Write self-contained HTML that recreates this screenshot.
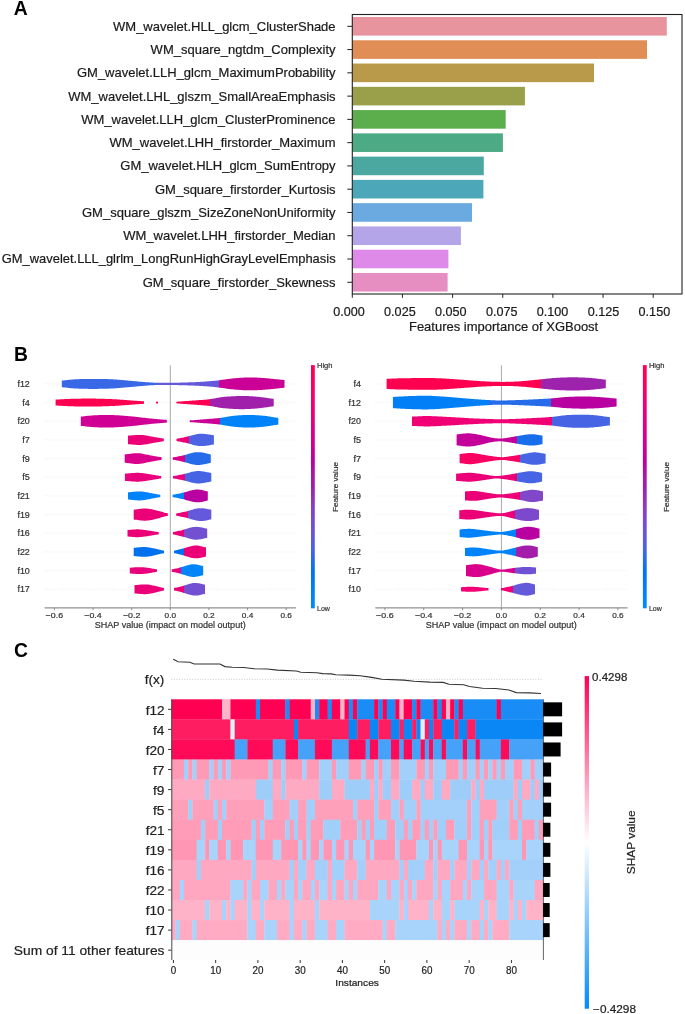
<!DOCTYPE html>
<html><head><meta charset="utf-8"><style>
html,body{margin:0;padding:0;background:#fff;}
svg{display:block;font-family:"Liberation Sans", sans-serif;will-change:transform;}
</style></head><body>
<svg width="685" height="1014" viewBox="0 0 685 1014">
<rect width="685" height="1014" fill="#ffffff"/>
<text x="13.80" y="15.10" font-size="19.3" text-anchor="start" fill="#000" font-weight="bold">A</text>
<rect x="352.30" y="17.00" width="314.50" height="18.6" fill="#e8949f"/>
<line x1="347.30" y1="26.30" x2="352.30" y2="26.30" stroke="#222" stroke-width="1"/>
<text x="335.60" y="30.75" font-size="12.4" text-anchor="end" fill="#1a1a1a" textLength="222.54" lengthAdjust="spacingAndGlyphs" stroke="#1a1a1a" stroke-width="0.2">WM_wavelet.HLL_glcm_ClusterShade</text>
<rect x="352.30" y="40.27" width="294.70" height="18.6" fill="#e08e55"/>
<line x1="347.30" y1="49.57" x2="352.30" y2="49.57" stroke="#222" stroke-width="1"/>
<text x="335.60" y="54.02" font-size="12.4" text-anchor="end" fill="#1a1a1a" textLength="184.97" lengthAdjust="spacingAndGlyphs" stroke="#1a1a1a" stroke-width="0.2">WM_square_ngtdm_Complexity</text>
<rect x="352.30" y="63.54" width="241.70" height="18.6" fill="#b89a4a"/>
<line x1="347.30" y1="72.84" x2="352.30" y2="72.84" stroke="#222" stroke-width="1"/>
<text x="335.60" y="77.29" font-size="12.4" text-anchor="end" fill="#1a1a1a" textLength="258.65" lengthAdjust="spacingAndGlyphs" stroke="#1a1a1a" stroke-width="0.2">GM_wavelet.LLH_glcm_MaximumProbability</text>
<rect x="352.30" y="86.81" width="172.60" height="18.6" fill="#9aa04a"/>
<line x1="347.30" y1="96.11" x2="352.30" y2="96.11" stroke="#222" stroke-width="1"/>
<text x="335.60" y="100.56" font-size="12.4" text-anchor="end" fill="#1a1a1a" textLength="267.32" lengthAdjust="spacingAndGlyphs" stroke="#1a1a1a" stroke-width="0.2">WM_wavelet.LHL_glszm_SmallAreaEmphasis</text>
<rect x="352.30" y="110.08" width="153.40" height="18.6" fill="#5cae4c"/>
<line x1="347.30" y1="119.38" x2="352.30" y2="119.38" stroke="#222" stroke-width="1"/>
<text x="335.60" y="123.83" font-size="12.4" text-anchor="end" fill="#1a1a1a" textLength="254.32" lengthAdjust="spacingAndGlyphs" stroke="#1a1a1a" stroke-width="0.2">WM_wavelet.LLH_glcm_ClusterProminence</text>
<rect x="352.30" y="133.35" width="150.60" height="18.6" fill="#4cab84"/>
<line x1="347.30" y1="142.65" x2="352.30" y2="142.65" stroke="#222" stroke-width="1"/>
<text x="335.60" y="147.10" font-size="12.4" text-anchor="end" fill="#1a1a1a" textLength="226.11" lengthAdjust="spacingAndGlyphs" stroke="#1a1a1a" stroke-width="0.2">WM_wavelet.LHH_firstorder_Maximum</text>
<rect x="352.30" y="156.62" width="131.50" height="18.6" fill="#4aa8a0"/>
<line x1="347.30" y1="165.92" x2="352.30" y2="165.92" stroke="#222" stroke-width="1"/>
<text x="335.60" y="170.37" font-size="12.4" text-anchor="end" fill="#1a1a1a" textLength="215.31" lengthAdjust="spacingAndGlyphs" stroke="#1a1a1a" stroke-width="0.2">GM_wavelet.HLH_glcm_SumEntropy</text>
<rect x="352.30" y="179.89" width="131.10" height="18.6" fill="#4ca8b8"/>
<line x1="347.30" y1="189.19" x2="352.30" y2="189.19" stroke="#222" stroke-width="1"/>
<text x="335.60" y="193.64" font-size="12.4" text-anchor="end" fill="#1a1a1a" textLength="180.63" lengthAdjust="spacingAndGlyphs" stroke="#1a1a1a" stroke-width="0.2">GM_square_firstorder_Kurtosis</text>
<rect x="352.30" y="203.16" width="119.70" height="18.6" fill="#6aaae0"/>
<line x1="347.30" y1="212.46" x2="352.30" y2="212.46" stroke="#222" stroke-width="1"/>
<text x="335.60" y="216.91" font-size="12.4" text-anchor="end" fill="#1a1a1a" textLength="253.60" lengthAdjust="spacingAndGlyphs" stroke="#1a1a1a" stroke-width="0.2">GM_square_glszm_SizeZoneNonUniformity</text>
<rect x="352.30" y="226.43" width="108.60" height="18.6" fill="#b4a4e8"/>
<line x1="347.30" y1="235.73" x2="352.30" y2="235.73" stroke="#222" stroke-width="1"/>
<text x="335.60" y="240.18" font-size="12.4" text-anchor="end" fill="#1a1a1a" textLength="212.41" lengthAdjust="spacingAndGlyphs" stroke="#1a1a1a" stroke-width="0.2">WM_wavelet.LHH_firstorder_Median</text>
<rect x="352.30" y="249.70" width="96.10" height="18.6" fill="#de8ae8"/>
<line x1="347.30" y1="259.00" x2="352.30" y2="259.00" stroke="#222" stroke-width="1"/>
<text x="335.60" y="263.45" font-size="12.4" text-anchor="end" fill="#1a1a1a" textLength="333.80" lengthAdjust="spacingAndGlyphs" stroke="#1a1a1a" stroke-width="0.2">GM_wavelet.LLL_glrlm_LongRunHighGrayLevelEmphasis</text>
<rect x="352.30" y="272.97" width="95.30" height="18.6" fill="#e68ec2"/>
<line x1="347.30" y1="282.27" x2="352.30" y2="282.27" stroke="#222" stroke-width="1"/>
<text x="335.60" y="286.72" font-size="12.4" text-anchor="end" fill="#1a1a1a" textLength="192.92" lengthAdjust="spacingAndGlyphs" stroke="#1a1a1a" stroke-width="0.2">GM_square_firstorder_Skewness</text>
<rect x="352.30" y="14.50" width="329.70" height="279.50" fill="none" stroke="#222" stroke-width="1.1"/>
<line x1="352.30" y1="294.00" x2="352.30" y2="297.80" stroke="#222" stroke-width="1"/>
<text x="349.00" y="316.10" font-size="12.4" text-anchor="middle" fill="#1a1a1a" stroke="#1a1a1a" stroke-width="0.2" textLength="31.60" lengthAdjust="spacingAndGlyphs">0.000</text>
<line x1="402.45" y1="294.00" x2="402.45" y2="297.80" stroke="#222" stroke-width="1"/>
<text x="399.90" y="316.10" font-size="12.4" text-anchor="middle" fill="#1a1a1a" stroke="#1a1a1a" stroke-width="0.2" textLength="31.60" lengthAdjust="spacingAndGlyphs">0.025</text>
<line x1="452.60" y1="294.00" x2="452.60" y2="297.80" stroke="#222" stroke-width="1"/>
<text x="450.80" y="316.10" font-size="12.4" text-anchor="middle" fill="#1a1a1a" stroke="#1a1a1a" stroke-width="0.2" textLength="31.60" lengthAdjust="spacingAndGlyphs">0.050</text>
<line x1="502.75" y1="294.00" x2="502.75" y2="297.80" stroke="#222" stroke-width="1"/>
<text x="501.70" y="316.10" font-size="12.4" text-anchor="middle" fill="#1a1a1a" stroke="#1a1a1a" stroke-width="0.2" textLength="31.60" lengthAdjust="spacingAndGlyphs">0.075</text>
<line x1="552.90" y1="294.00" x2="552.90" y2="297.80" stroke="#222" stroke-width="1"/>
<text x="552.60" y="316.10" font-size="12.4" text-anchor="middle" fill="#1a1a1a" stroke="#1a1a1a" stroke-width="0.2" textLength="31.60" lengthAdjust="spacingAndGlyphs">0.100</text>
<line x1="603.05" y1="294.00" x2="603.05" y2="297.80" stroke="#222" stroke-width="1"/>
<text x="603.50" y="316.10" font-size="12.4" text-anchor="middle" fill="#1a1a1a" stroke="#1a1a1a" stroke-width="0.2" textLength="31.60" lengthAdjust="spacingAndGlyphs">0.125</text>
<line x1="653.20" y1="294.00" x2="653.20" y2="297.80" stroke="#222" stroke-width="1"/>
<text x="654.40" y="316.10" font-size="12.4" text-anchor="middle" fill="#1a1a1a" stroke="#1a1a1a" stroke-width="0.2" textLength="31.60" lengthAdjust="spacingAndGlyphs">0.150</text>
<text x="503.60" y="331.00" font-size="12.4" text-anchor="middle" fill="#1a1a1a" stroke="#1a1a1a" stroke-width="0.2" textLength="189.31" lengthAdjust="spacingAndGlyphs">Features importance of XGBoost</text>
<text x="14.10" y="361.20" font-size="19.3" text-anchor="start" fill="#000" font-weight="bold">B</text>
<line x1="44.50" y1="383.90" x2="296.00" y2="383.90" stroke="#e6e6e6" stroke-width="0.7" stroke-dasharray="1,1.6"/>
<line x1="44.50" y1="402.57" x2="296.00" y2="402.57" stroke="#e6e6e6" stroke-width="0.7" stroke-dasharray="1,1.6"/>
<line x1="44.50" y1="421.24" x2="296.00" y2="421.24" stroke="#e6e6e6" stroke-width="0.7" stroke-dasharray="1,1.6"/>
<line x1="44.50" y1="439.91" x2="296.00" y2="439.91" stroke="#e6e6e6" stroke-width="0.7" stroke-dasharray="1,1.6"/>
<line x1="44.50" y1="458.58" x2="296.00" y2="458.58" stroke="#e6e6e6" stroke-width="0.7" stroke-dasharray="1,1.6"/>
<line x1="44.50" y1="477.25" x2="296.00" y2="477.25" stroke="#e6e6e6" stroke-width="0.7" stroke-dasharray="1,1.6"/>
<line x1="44.50" y1="495.92" x2="296.00" y2="495.92" stroke="#e6e6e6" stroke-width="0.7" stroke-dasharray="1,1.6"/>
<line x1="44.50" y1="514.59" x2="296.00" y2="514.59" stroke="#e6e6e6" stroke-width="0.7" stroke-dasharray="1,1.6"/>
<line x1="44.50" y1="533.26" x2="296.00" y2="533.26" stroke="#e6e6e6" stroke-width="0.7" stroke-dasharray="1,1.6"/>
<line x1="44.50" y1="551.93" x2="296.00" y2="551.93" stroke="#e6e6e6" stroke-width="0.7" stroke-dasharray="1,1.6"/>
<line x1="44.50" y1="570.60" x2="296.00" y2="570.60" stroke="#e6e6e6" stroke-width="0.7" stroke-dasharray="1,1.6"/>
<line x1="44.50" y1="589.27" x2="296.00" y2="589.27" stroke="#e6e6e6" stroke-width="0.7" stroke-dasharray="1,1.6"/>
<line x1="170.30" y1="365.3" x2="170.30" y2="607.4" stroke="#a8a8a8" stroke-width="1"/>
<text x="29.80" y="387.00" font-size="8.5" text-anchor="end" fill="#333" stroke="#333" stroke-width="0.2" textLength="12.38" lengthAdjust="spacingAndGlyphs">f12</text>
<linearGradient id="g1" gradientUnits="objectBoundingBox" x1="0" y1="0" x2="1" y2="0"><stop offset="0.0000" stop-color="#3968e7"/><stop offset="0.4297" stop-color="#3968e7"/><stop offset="0.4297" stop-color="#6459da"/><stop offset="0.7045" stop-color="#6459da"/><stop offset="0.7045" stop-color="#ca0097"/></linearGradient>
<path d="M61.80,380.58 L62.80,380.51 L63.80,380.42 L64.80,380.32 L65.80,380.21 L66.80,380.09 L67.80,379.98 L68.80,379.87 L69.80,379.76 L70.80,379.66 L71.80,379.57 L72.80,379.48 L73.80,379.41 L74.80,379.34 L75.80,379.28 L76.80,379.23 L77.80,379.18 L78.80,379.14 L79.80,379.10 L80.80,379.07 L81.80,379.04 L82.80,379.02 L83.80,378.99 L84.80,378.97 L85.80,378.96 L86.80,378.94 L87.80,378.93 L88.80,378.92 L89.80,378.92 L90.80,378.91 L91.80,378.91 L92.80,378.90 L93.80,378.90 L94.80,378.91 L95.80,378.91 L96.80,378.91 L97.80,378.92 L98.80,378.93 L99.80,378.94 L100.80,378.95 L101.80,378.96 L102.80,378.98 L103.80,379.00 L104.80,379.03 L105.80,379.06 L106.80,379.09 L107.80,379.12 L108.80,379.16 L109.80,379.21 L110.80,379.25 L111.80,379.30 L112.80,379.36 L113.80,379.42 L114.80,379.48 L115.80,379.55 L116.80,379.62 L117.80,379.70 L118.80,379.78 L119.80,379.86 L120.80,379.94 L121.80,380.02 L122.80,380.11 L123.80,380.19 L124.80,380.28 L125.80,380.37 L126.80,380.46 L127.80,380.55 L128.80,380.64 L129.80,380.73 L130.80,380.82 L131.80,380.91 L132.80,380.99 L133.80,381.08 L134.80,381.17 L135.80,381.26 L136.80,381.35 L137.80,381.45 L138.80,381.54 L139.80,381.63 L140.80,381.73 L141.80,381.82 L142.80,381.91 L143.80,381.99 L144.80,382.07 L145.80,382.15 L146.80,382.23 L147.80,382.30 L148.80,382.37 L149.80,382.44 L150.80,382.50 L151.80,382.56 L152.80,382.61 L153.80,382.65 L154.80,382.69 L155.80,382.73 L156.80,382.75 L157.80,382.78 L158.80,382.79 L159.80,382.81 L160.80,382.82 L161.80,382.82 L162.80,382.83 L163.80,382.83 L164.80,382.83 L165.80,382.82 L166.80,382.82 L167.80,382.81 L168.80,382.81 L169.80,382.80 L170.80,382.79 L171.80,382.78 L172.80,382.76 L173.80,382.75 L174.80,382.73 L175.80,382.72 L176.80,382.70 L177.80,382.68 L178.80,382.66 L179.80,382.63 L180.80,382.61 L181.80,382.59 L182.80,382.56 L183.80,382.53 L184.80,382.50 L185.80,382.47 L186.80,382.44 L187.80,382.41 L188.80,382.37 L189.80,382.34 L190.80,382.30 L191.80,382.26 L192.80,382.22 L193.80,382.18 L194.80,382.14 L195.80,382.09 L196.80,382.05 L197.80,382.00 L198.80,381.95 L199.80,381.90 L200.80,381.85 L201.80,381.79 L202.80,381.73 L203.80,381.67 L204.80,381.60 L205.80,381.53 L206.80,381.45 L207.80,381.37 L208.80,381.29 L209.80,381.21 L210.80,381.12 L211.80,381.03 L212.80,380.94 L213.80,380.84 L214.80,380.73 L215.80,380.63 L216.80,380.51 L217.80,380.39 L218.80,380.27 L219.80,380.14 L220.80,380.00 L221.80,379.86 L222.80,379.72 L223.80,379.57 L224.80,379.43 L225.80,379.28 L226.80,379.14 L227.80,379.01 L228.80,378.88 L229.80,378.76 L230.80,378.65 L231.80,378.54 L232.80,378.44 L233.80,378.34 L234.80,378.25 L235.80,378.16 L236.80,378.08 L237.80,378.00 L238.80,377.93 L239.80,377.85 L240.80,377.79 L241.80,377.73 L242.80,377.67 L243.80,377.62 L244.80,377.58 L245.80,377.54 L246.80,377.51 L247.80,377.49 L248.80,377.47 L249.80,377.46 L250.80,377.47 L251.80,377.47 L252.80,377.49 L253.80,377.51 L254.80,377.54 L255.80,377.57 L256.80,377.61 L257.80,377.66 L258.80,377.71 L259.80,377.76 L260.80,377.82 L261.80,377.89 L262.80,377.95 L263.80,378.02 L264.80,378.10 L265.80,378.18 L266.80,378.26 L267.80,378.35 L268.80,378.44 L269.80,378.53 L270.80,378.63 L271.80,378.73 L272.80,378.83 L273.80,378.93 L274.80,379.04 L275.80,379.15 L276.80,379.25 L277.80,379.36 L278.80,379.47 L279.80,379.58 L280.80,379.69 L281.80,379.79 L282.80,379.87 L283.80,379.95 L284.50,379.99 L284.50,387.81 L283.80,387.85 L282.80,387.93 L281.80,388.01 L280.80,388.11 L279.80,388.22 L278.80,388.33 L277.80,388.44 L276.80,388.55 L275.80,388.65 L274.80,388.76 L273.80,388.87 L272.80,388.97 L271.80,389.07 L270.80,389.17 L269.80,389.27 L268.80,389.36 L267.80,389.45 L266.80,389.54 L265.80,389.62 L264.80,389.70 L263.80,389.78 L262.80,389.85 L261.80,389.91 L260.80,389.98 L259.80,390.04 L258.80,390.09 L257.80,390.14 L256.80,390.19 L255.80,390.23 L254.80,390.26 L253.80,390.29 L252.80,390.31 L251.80,390.33 L250.80,390.33 L249.80,390.34 L248.80,390.33 L247.80,390.31 L246.80,390.29 L245.80,390.26 L244.80,390.22 L243.80,390.18 L242.80,390.13 L241.80,390.07 L240.80,390.01 L239.80,389.95 L238.80,389.87 L237.80,389.80 L236.80,389.72 L235.80,389.64 L234.80,389.55 L233.80,389.46 L232.80,389.36 L231.80,389.26 L230.80,389.15 L229.80,389.04 L228.80,388.92 L227.80,388.79 L226.80,388.66 L225.80,388.52 L224.80,388.37 L223.80,388.23 L222.80,388.08 L221.80,387.94 L220.80,387.80 L219.80,387.66 L218.80,387.53 L217.80,387.41 L216.80,387.29 L215.80,387.17 L214.80,387.07 L213.80,386.96 L212.80,386.86 L211.80,386.77 L210.80,386.68 L209.80,386.59 L208.80,386.51 L207.80,386.43 L206.80,386.35 L205.80,386.27 L204.80,386.20 L203.80,386.13 L202.80,386.07 L201.80,386.01 L200.80,385.95 L199.80,385.90 L198.80,385.85 L197.80,385.80 L196.80,385.75 L195.80,385.71 L194.80,385.66 L193.80,385.62 L192.80,385.58 L191.80,385.54 L190.80,385.50 L189.80,385.46 L188.80,385.43 L187.80,385.39 L186.80,385.36 L185.80,385.33 L184.80,385.30 L183.80,385.27 L182.80,385.24 L181.80,385.21 L180.80,385.19 L179.80,385.17 L178.80,385.14 L177.80,385.12 L176.80,385.10 L175.80,385.08 L174.80,385.07 L173.80,385.05 L172.80,385.04 L171.80,385.02 L170.80,385.01 L169.80,385.00 L168.80,384.99 L167.80,384.99 L166.80,384.98 L165.80,384.98 L164.80,384.97 L163.80,384.97 L162.80,384.97 L161.80,384.98 L160.80,384.98 L159.80,384.99 L158.80,385.01 L157.80,385.02 L156.80,385.05 L155.80,385.07 L154.80,385.11 L153.80,385.15 L152.80,385.19 L151.80,385.24 L150.80,385.30 L149.80,385.36 L148.80,385.43 L147.80,385.50 L146.80,385.57 L145.80,385.65 L144.80,385.73 L143.80,385.81 L142.80,385.89 L141.80,385.98 L140.80,386.07 L139.80,386.17 L138.80,386.26 L137.80,386.35 L136.80,386.45 L135.80,386.54 L134.80,386.63 L133.80,386.72 L132.80,386.81 L131.80,386.89 L130.80,386.98 L129.80,387.07 L128.80,387.16 L127.80,387.25 L126.80,387.34 L125.80,387.43 L124.80,387.52 L123.80,387.61 L122.80,387.69 L121.80,387.78 L120.80,387.86 L119.80,387.94 L118.80,388.02 L117.80,388.10 L116.80,388.18 L115.80,388.25 L114.80,388.32 L113.80,388.38 L112.80,388.44 L111.80,388.50 L110.80,388.55 L109.80,388.59 L108.80,388.64 L107.80,388.68 L106.80,388.71 L105.80,388.74 L104.80,388.77 L103.80,388.80 L102.80,388.82 L101.80,388.84 L100.80,388.85 L99.80,388.86 L98.80,388.87 L97.80,388.88 L96.80,388.89 L95.80,388.89 L94.80,388.89 L93.80,388.90 L92.80,388.90 L91.80,388.89 L90.80,388.89 L89.80,388.88 L88.80,388.88 L87.80,388.87 L86.80,388.86 L85.80,388.84 L84.80,388.83 L83.80,388.81 L82.80,388.78 L81.80,388.76 L80.80,388.73 L79.80,388.70 L78.80,388.66 L77.80,388.62 L76.80,388.57 L75.80,388.52 L74.80,388.46 L73.80,388.39 L72.80,388.32 L71.80,388.23 L70.80,388.14 L69.80,388.04 L68.80,387.93 L67.80,387.82 L66.80,387.71 L65.80,387.59 L64.80,387.48 L63.80,387.38 L62.80,387.29 L61.80,387.22 Z" fill="url(#g1)"/>
<text x="29.80" y="405.67" font-size="8.5" text-anchor="end" fill="#333" stroke="#333" stroke-width="0.2" textLength="7.53" lengthAdjust="spacingAndGlyphs">f4</text>
<path d="M55.60,399.65 L56.60,399.61 L57.60,399.56 L58.60,399.50 L59.60,399.44 L60.60,399.37 L61.60,399.31 L62.60,399.24 L63.60,399.18 L64.60,399.12 L65.60,399.07 L66.60,399.02 L67.60,398.97 L68.60,398.93 L69.60,398.90 L70.60,398.86 L71.60,398.83 L72.60,398.80 L73.60,398.78 L74.60,398.75 L75.60,398.73 L76.60,398.71 L77.60,398.69 L78.60,398.67 L79.60,398.65 L80.60,398.63 L81.60,398.62 L82.60,398.61 L83.60,398.60 L84.60,398.59 L85.60,398.58 L86.60,398.57 L87.60,398.57 L88.60,398.56 L89.60,398.56 L90.60,398.56 L91.60,398.57 L92.60,398.58 L93.60,398.58 L94.60,398.60 L95.60,398.61 L96.60,398.63 L97.60,398.65 L98.60,398.67 L99.60,398.69 L100.60,398.72 L101.60,398.75 L102.60,398.78 L103.60,398.81 L104.60,398.84 L105.60,398.88 L106.60,398.91 L107.60,398.95 L108.60,398.99 L109.60,399.03 L110.60,399.07 L111.60,399.12 L112.60,399.16 L113.60,399.21 L114.60,399.26 L115.60,399.31 L116.60,399.37 L117.60,399.43 L118.60,399.49 L119.60,399.56 L120.60,399.63 L121.60,399.70 L122.60,399.78 L123.60,399.86 L124.60,399.94 L125.60,400.02 L126.60,400.10 L127.60,400.18 L128.60,400.26 L129.60,400.33 L130.60,400.41 L131.60,400.48 L132.60,400.56 L133.60,400.63 L134.60,400.70 L135.60,400.77 L136.60,400.84 L137.60,400.91 L138.60,400.98 L139.60,401.05 L140.60,401.12 L141.60,401.18 L142.60,401.24 L143.60,401.28 L144.00,401.30 L144.00,403.84 L143.60,403.86 L142.60,403.90 L141.60,403.96 L140.60,404.02 L139.60,404.09 L138.60,404.16 L137.60,404.23 L136.60,404.30 L135.60,404.37 L134.60,404.44 L133.60,404.51 L132.60,404.58 L131.60,404.66 L130.60,404.73 L129.60,404.81 L128.60,404.88 L127.60,404.96 L126.60,405.04 L125.60,405.12 L124.60,405.20 L123.60,405.28 L122.60,405.36 L121.60,405.44 L120.60,405.51 L119.60,405.58 L118.60,405.65 L117.60,405.71 L116.60,405.77 L115.60,405.83 L114.60,405.88 L113.60,405.93 L112.60,405.98 L111.60,406.02 L110.60,406.07 L109.60,406.11 L108.60,406.15 L107.60,406.19 L106.60,406.23 L105.60,406.26 L104.60,406.30 L103.60,406.33 L102.60,406.36 L101.60,406.39 L100.60,406.42 L99.60,406.45 L98.60,406.47 L97.60,406.49 L96.60,406.51 L95.60,406.53 L94.60,406.54 L93.60,406.56 L92.60,406.56 L91.60,406.57 L90.60,406.58 L89.60,406.58 L88.60,406.58 L87.60,406.57 L86.60,406.57 L85.60,406.56 L84.60,406.55 L83.60,406.54 L82.60,406.53 L81.60,406.52 L80.60,406.51 L79.60,406.49 L78.60,406.47 L77.60,406.45 L76.60,406.43 L75.60,406.41 L74.60,406.39 L73.60,406.36 L72.60,406.34 L71.60,406.31 L70.60,406.28 L69.60,406.24 L68.60,406.21 L67.60,406.17 L66.60,406.12 L65.60,406.07 L64.60,406.02 L63.60,405.96 L62.60,405.90 L61.60,405.83 L60.60,405.77 L59.60,405.70 L58.60,405.64 L57.60,405.58 L56.60,405.53 L55.60,405.49 Z" fill="#ff0051"/>
<circle cx="157.00" cy="402.57" r="1.1" fill="#ff0051"/>
<linearGradient id="g2" gradientUnits="objectBoundingBox" x1="0" y1="0" x2="1" y2="0"><stop offset="0.0000" stop-color="#ff0051"/><stop offset="0.3412" stop-color="#ff0051"/><stop offset="0.3412" stop-color="#a01fab"/></linearGradient>
<path d="M176.40,401.70 L177.40,401.66 L178.40,401.60 L179.40,401.54 L180.40,401.47 L181.40,401.40 L182.40,401.33 L183.40,401.26 L184.40,401.19 L185.40,401.11 L186.40,401.04 L187.40,400.96 L188.40,400.89 L189.40,400.82 L190.40,400.74 L191.40,400.67 L192.40,400.60 L193.40,400.53 L194.40,400.46 L195.40,400.40 L196.40,400.33 L197.40,400.26 L198.40,400.19 L199.40,400.12 L200.40,400.05 L201.40,399.98 L202.40,399.91 L203.40,399.83 L204.40,399.75 L205.40,399.66 L206.40,399.57 L207.40,399.47 L208.40,399.37 L209.40,399.25 L210.40,399.11 L211.40,398.97 L212.40,398.80 L213.40,398.62 L214.40,398.43 L215.40,398.24 L216.40,398.04 L217.40,397.84 L218.40,397.66 L219.40,397.48 L220.40,397.33 L221.40,397.19 L222.40,397.07 L223.40,396.96 L224.40,396.86 L225.40,396.77 L226.40,396.68 L227.40,396.60 L228.40,396.53 L229.40,396.46 L230.40,396.40 L231.40,396.33 L232.40,396.28 L233.40,396.23 L234.40,396.18 L235.40,396.13 L236.40,396.10 L237.40,396.06 L238.40,396.04 L239.40,396.01 L240.40,396.00 L241.40,395.99 L242.40,395.99 L243.40,395.99 L244.40,396.01 L245.40,396.03 L246.40,396.05 L247.40,396.08 L248.40,396.12 L249.40,396.17 L250.40,396.22 L251.40,396.28 L252.40,396.34 L253.40,396.41 L254.40,396.48 L255.40,396.56 L256.40,396.65 L257.40,396.74 L258.40,396.83 L259.40,396.94 L260.40,397.05 L261.40,397.17 L262.40,397.30 L263.40,397.43 L264.40,397.56 L265.40,397.71 L266.40,397.85 L267.40,398.00 L268.40,398.15 L269.40,398.30 L270.40,398.44 L271.40,398.58 L272.40,398.70 L273.40,398.79 L273.70,398.83 L273.70,406.31 L273.40,406.35 L272.40,406.44 L271.40,406.56 L270.40,406.70 L269.40,406.84 L268.40,406.99 L267.40,407.14 L266.40,407.29 L265.40,407.43 L264.40,407.58 L263.40,407.71 L262.40,407.84 L261.40,407.97 L260.40,408.09 L259.40,408.20 L258.40,408.31 L257.40,408.40 L256.40,408.49 L255.40,408.58 L254.40,408.66 L253.40,408.73 L252.40,408.80 L251.40,408.86 L250.40,408.92 L249.40,408.97 L248.40,409.02 L247.40,409.06 L246.40,409.09 L245.40,409.11 L244.40,409.13 L243.40,409.15 L242.40,409.15 L241.40,409.15 L240.40,409.14 L239.40,409.13 L238.40,409.10 L237.40,409.08 L236.40,409.04 L235.40,409.01 L234.40,408.96 L233.40,408.91 L232.40,408.86 L231.40,408.81 L230.40,408.74 L229.40,408.68 L228.40,408.61 L227.40,408.54 L226.40,408.46 L225.40,408.37 L224.40,408.28 L223.40,408.18 L222.40,408.07 L221.40,407.95 L220.40,407.81 L219.40,407.66 L218.40,407.48 L217.40,407.30 L216.40,407.10 L215.40,406.90 L214.40,406.71 L213.40,406.52 L212.40,406.34 L211.40,406.17 L210.40,406.03 L209.40,405.89 L208.40,405.77 L207.40,405.67 L206.40,405.57 L205.40,405.48 L204.40,405.39 L203.40,405.31 L202.40,405.23 L201.40,405.16 L200.40,405.09 L199.40,405.02 L198.40,404.95 L197.40,404.88 L196.40,404.81 L195.40,404.74 L194.40,404.68 L193.40,404.61 L192.40,404.54 L191.40,404.47 L190.40,404.40 L189.40,404.32 L188.40,404.25 L187.40,404.18 L186.40,404.10 L185.40,404.03 L184.40,403.95 L183.40,403.88 L182.40,403.81 L181.40,403.74 L180.40,403.67 L179.40,403.60 L178.40,403.54 L177.40,403.48 L176.40,403.44 Z" fill="url(#g2)"/>
<text x="29.80" y="424.34" font-size="8.5" text-anchor="end" fill="#333" stroke="#333" stroke-width="0.2" textLength="12.38" lengthAdjust="spacingAndGlyphs">f20</text>
<path d="M80.80,416.60 L81.80,416.53 L82.80,416.43 L83.80,416.31 L84.80,416.19 L85.80,416.07 L86.80,415.95 L87.80,415.84 L88.80,415.74 L89.80,415.64 L90.80,415.56 L91.80,415.48 L92.80,415.41 L93.80,415.35 L94.80,415.29 L95.80,415.24 L96.80,415.19 L97.80,415.14 L98.80,415.10 L99.80,415.06 L100.80,415.03 L101.80,415.00 L102.80,414.98 L103.80,414.96 L104.80,414.94 L105.80,414.93 L106.80,414.93 L107.80,414.93 L108.80,414.94 L109.80,414.96 L110.80,414.98 L111.80,415.01 L112.80,415.04 L113.80,415.08 L114.80,415.13 L115.80,415.18 L116.80,415.24 L117.80,415.30 L118.80,415.36 L119.80,415.43 L120.80,415.50 L121.80,415.57 L122.80,415.64 L123.80,415.72 L124.80,415.80 L125.80,415.88 L126.80,415.97 L127.80,416.05 L128.80,416.14 L129.80,416.23 L130.80,416.32 L131.80,416.42 L132.80,416.52 L133.80,416.62 L134.80,416.72 L135.80,416.83 L136.80,416.94 L137.80,417.05 L138.80,417.17 L139.80,417.28 L140.80,417.40 L141.80,417.52 L142.80,417.63 L143.80,417.75 L144.80,417.86 L145.80,417.98 L146.80,418.09 L147.80,418.20 L148.80,418.31 L149.80,418.41 L150.80,418.51 L151.80,418.61 L152.80,418.71 L153.80,418.80 L154.80,418.89 L155.80,418.98 L156.80,419.07 L157.80,419.16 L158.80,419.25 L159.80,419.34 L160.80,419.42 L161.80,419.51 L162.80,419.59 L163.80,419.67 L164.80,419.74 L165.80,419.80 L166.80,419.85 L166.80,422.63 L165.80,422.68 L164.80,422.74 L163.80,422.81 L162.80,422.89 L161.80,422.97 L160.80,423.06 L159.80,423.14 L158.80,423.23 L157.80,423.32 L156.80,423.41 L155.80,423.50 L154.80,423.59 L153.80,423.68 L152.80,423.77 L151.80,423.87 L150.80,423.97 L149.80,424.07 L148.80,424.17 L147.80,424.28 L146.80,424.39 L145.80,424.50 L144.80,424.62 L143.80,424.73 L142.80,424.85 L141.80,424.96 L140.80,425.08 L139.80,425.20 L138.80,425.31 L137.80,425.43 L136.80,425.54 L135.80,425.65 L134.80,425.76 L133.80,425.86 L132.80,425.96 L131.80,426.06 L130.80,426.16 L129.80,426.25 L128.80,426.34 L127.80,426.43 L126.80,426.51 L125.80,426.60 L124.80,426.68 L123.80,426.76 L122.80,426.84 L121.80,426.91 L120.80,426.98 L119.80,427.05 L118.80,427.12 L117.80,427.18 L116.80,427.24 L115.80,427.30 L114.80,427.35 L113.80,427.40 L112.80,427.44 L111.80,427.47 L110.80,427.50 L109.80,427.52 L108.80,427.54 L107.80,427.55 L106.80,427.55 L105.80,427.55 L104.80,427.54 L103.80,427.52 L102.80,427.50 L101.80,427.48 L100.80,427.45 L99.80,427.42 L98.80,427.38 L97.80,427.34 L96.80,427.29 L95.80,427.24 L94.80,427.19 L93.80,427.13 L92.80,427.07 L91.80,427.00 L90.80,426.92 L89.80,426.84 L88.80,426.74 L87.80,426.64 L86.80,426.53 L85.80,426.41 L84.80,426.29 L83.80,426.17 L82.80,426.05 L81.80,425.95 L80.80,425.88 Z" fill="#cf0093"/>
<linearGradient id="g3" gradientUnits="objectBoundingBox" x1="0" y1="0" x2="1" y2="0"><stop offset="0.0000" stop-color="#ca0097"/><stop offset="0.3420" stop-color="#ca0097"/><stop offset="0.3420" stop-color="#0082f8"/></linearGradient>
<path d="M189.70,420.36 L190.70,420.32 L191.70,420.26 L192.70,420.20 L193.70,420.13 L194.70,420.05 L195.70,419.98 L196.70,419.90 L197.70,419.82 L198.70,419.74 L199.70,419.66 L200.70,419.58 L201.70,419.51 L202.70,419.43 L203.70,419.35 L204.70,419.27 L205.70,419.19 L206.70,419.11 L207.70,419.03 L208.70,418.95 L209.70,418.87 L210.70,418.79 L211.70,418.71 L212.70,418.63 L213.70,418.55 L214.70,418.46 L215.70,418.37 L216.70,418.27 L217.70,418.17 L218.70,418.06 L219.70,417.94 L220.70,417.80 L221.70,417.66 L222.70,417.50 L223.70,417.34 L224.70,417.16 L225.70,416.98 L226.70,416.80 L227.70,416.63 L228.70,416.46 L229.70,416.30 L230.70,416.15 L231.70,416.02 L232.70,415.89 L233.70,415.78 L234.70,415.67 L235.70,415.57 L236.70,415.48 L237.70,415.40 L238.70,415.32 L239.70,415.25 L240.70,415.18 L241.70,415.13 L242.70,415.08 L243.70,415.04 L244.70,415.00 L245.70,414.98 L246.70,414.96 L247.70,414.96 L248.70,414.96 L249.70,414.96 L250.70,414.98 L251.70,415.00 L252.70,415.02 L253.70,415.06 L254.70,415.09 L255.70,415.14 L256.70,415.19 L257.70,415.25 L258.70,415.31 L259.70,415.38 L260.70,415.46 L261.70,415.55 L262.70,415.64 L263.70,415.75 L264.70,415.86 L265.70,415.99 L266.70,416.12 L267.70,416.27 L268.70,416.42 L269.70,416.57 L270.70,416.73 L271.70,416.90 L272.70,417.07 L273.70,417.24 L274.70,417.40 L275.70,417.56 L276.70,417.69 L277.70,417.81 L278.30,417.88 L278.30,424.60 L277.70,424.67 L276.70,424.79 L275.70,424.92 L274.70,425.08 L273.70,425.24 L272.70,425.41 L271.70,425.58 L270.70,425.75 L269.70,425.91 L268.70,426.06 L267.70,426.21 L266.70,426.36 L265.70,426.49 L264.70,426.62 L263.70,426.73 L262.70,426.84 L261.70,426.93 L260.70,427.02 L259.70,427.10 L258.70,427.17 L257.70,427.23 L256.70,427.29 L255.70,427.34 L254.70,427.39 L253.70,427.42 L252.70,427.46 L251.70,427.48 L250.70,427.50 L249.70,427.52 L248.70,427.52 L247.70,427.52 L246.70,427.52 L245.70,427.50 L244.70,427.48 L243.70,427.44 L242.70,427.40 L241.70,427.35 L240.70,427.30 L239.70,427.23 L238.70,427.16 L237.70,427.08 L236.70,427.00 L235.70,426.91 L234.70,426.81 L233.70,426.70 L232.70,426.59 L231.70,426.46 L230.70,426.33 L229.70,426.18 L228.70,426.02 L227.70,425.85 L226.70,425.68 L225.70,425.50 L224.70,425.32 L223.70,425.14 L222.70,424.98 L221.70,424.82 L220.70,424.68 L219.70,424.54 L218.70,424.42 L217.70,424.31 L216.70,424.21 L215.70,424.11 L214.70,424.02 L213.70,423.93 L212.70,423.85 L211.70,423.77 L210.70,423.69 L209.70,423.61 L208.70,423.53 L207.70,423.45 L206.70,423.37 L205.70,423.29 L204.70,423.21 L203.70,423.13 L202.70,423.05 L201.70,422.97 L200.70,422.90 L199.70,422.82 L198.70,422.74 L197.70,422.66 L196.70,422.58 L195.70,422.50 L194.70,422.43 L193.70,422.35 L192.70,422.28 L191.70,422.22 L190.70,422.16 L189.70,422.12 Z" fill="url(#g3)"/>
<text x="29.80" y="443.01" font-size="8.5" text-anchor="end" fill="#333" stroke="#333" stroke-width="0.2" textLength="7.53" lengthAdjust="spacingAndGlyphs">f7</text>
<path d="M128.00,435.61 L129.00,435.55 L130.00,435.48 L131.00,435.39 L132.00,435.30 L133.00,435.21 L134.00,435.13 L135.00,435.05 L136.00,434.98 L137.00,434.93 L138.00,434.89 L139.00,434.88 L140.00,434.90 L141.00,434.94 L142.00,435.01 L143.00,435.10 L144.00,435.22 L145.00,435.36 L146.00,435.52 L147.00,435.69 L148.00,435.87 L149.00,436.05 L150.00,436.24 L151.00,436.42 L152.00,436.60 L153.00,436.78 L154.00,436.95 L155.00,437.13 L156.00,437.31 L157.00,437.48 L158.00,437.66 L159.00,437.84 L160.00,438.01 L161.00,438.17 L162.00,438.32 L163.00,438.45 L163.80,438.55 L163.80,441.27 L163.00,441.37 L162.00,441.50 L161.00,441.65 L160.00,441.81 L159.00,441.98 L158.00,442.16 L157.00,442.34 L156.00,442.51 L155.00,442.69 L154.00,442.87 L153.00,443.04 L152.00,443.22 L151.00,443.40 L150.00,443.58 L149.00,443.77 L148.00,443.95 L147.00,444.13 L146.00,444.30 L145.00,444.46 L144.00,444.60 L143.00,444.72 L142.00,444.81 L141.00,444.88 L140.00,444.92 L139.00,444.94 L138.00,444.93 L137.00,444.89 L136.00,444.84 L135.00,444.77 L134.00,444.69 L133.00,444.61 L132.00,444.52 L131.00,444.43 L130.00,444.34 L129.00,444.27 L128.00,444.21 Z" fill="#ec0078"/>
<linearGradient id="g4" gradientUnits="objectBoundingBox" x1="0" y1="0" x2="1" y2="0"><stop offset="0.0000" stop-color="#ec0078"/><stop offset="0.3235" stop-color="#ec0078"/><stop offset="0.3235" stop-color="#4c63e3"/></linearGradient>
<path d="M176.50,438.70 L177.50,438.58 L178.50,438.43 L179.50,438.25 L180.50,438.06 L181.50,437.86 L182.50,437.65 L183.50,437.44 L184.50,437.22 L185.50,437.00 L186.50,436.77 L187.50,436.53 L188.50,436.28 L189.50,436.01 L190.50,435.74 L191.50,435.45 L192.50,435.17 L193.50,434.89 L194.50,434.64 L195.50,434.40 L196.50,434.20 L197.50,434.03 L198.50,433.90 L199.50,433.81 L200.50,433.76 L201.50,433.74 L202.50,433.76 L203.50,433.82 L204.50,433.90 L205.50,434.01 L206.50,434.14 L207.50,434.28 L208.50,434.44 L209.50,434.61 L210.50,434.78 L211.50,434.96 L212.50,435.11 L213.50,435.25 L213.90,435.30 L213.90,444.52 L213.50,444.57 L212.50,444.71 L211.50,444.86 L210.50,445.04 L209.50,445.21 L208.50,445.38 L207.50,445.54 L206.50,445.68 L205.50,445.81 L204.50,445.92 L203.50,446.00 L202.50,446.06 L201.50,446.08 L200.50,446.06 L199.50,446.01 L198.50,445.92 L197.50,445.79 L196.50,445.62 L195.50,445.42 L194.50,445.18 L193.50,444.93 L192.50,444.65 L191.50,444.37 L190.50,444.08 L189.50,443.81 L188.50,443.54 L187.50,443.29 L186.50,443.05 L185.50,442.82 L184.50,442.60 L183.50,442.38 L182.50,442.17 L181.50,441.96 L180.50,441.76 L179.50,441.57 L178.50,441.39 L177.50,441.24 L176.50,441.12 Z" fill="url(#g4)"/>
<text x="29.80" y="461.68" font-size="8.5" text-anchor="end" fill="#333" stroke="#333" stroke-width="0.2" textLength="7.53" lengthAdjust="spacingAndGlyphs">f9</text>
<path d="M124.70,454.43 L125.70,454.34 L126.70,454.22 L127.70,454.09 L128.70,453.95 L129.70,453.81 L130.70,453.67 L131.70,453.54 L132.70,453.43 L133.70,453.33 L134.70,453.26 L135.70,453.21 L136.70,453.19 L137.70,453.21 L138.70,453.26 L139.70,453.35 L140.70,453.47 L141.70,453.61 L142.70,453.78 L143.70,453.97 L144.70,454.17 L145.70,454.38 L146.70,454.59 L147.70,454.79 L148.70,455.00 L149.70,455.20 L150.70,455.39 L151.70,455.58 L152.70,455.76 L153.70,455.94 L154.70,456.13 L155.70,456.31 L156.70,456.49 L157.70,456.66 L158.70,456.83 L159.70,456.98 L160.70,457.11 L161.60,457.21 L161.60,459.95 L160.70,460.05 L159.70,460.18 L158.70,460.33 L157.70,460.50 L156.70,460.67 L155.70,460.85 L154.70,461.03 L153.70,461.22 L152.70,461.40 L151.70,461.58 L150.70,461.77 L149.70,461.96 L148.70,462.16 L147.70,462.37 L146.70,462.57 L145.70,462.78 L144.70,462.99 L143.70,463.19 L142.70,463.38 L141.70,463.55 L140.70,463.69 L139.70,463.81 L138.70,463.90 L137.70,463.95 L136.70,463.97 L135.70,463.95 L134.70,463.90 L133.70,463.83 L132.70,463.73 L131.70,463.62 L130.70,463.49 L129.70,463.35 L128.70,463.21 L127.70,463.07 L126.70,462.94 L125.70,462.82 L124.70,462.73 Z" fill="#d9008c"/>
<linearGradient id="g5" gradientUnits="objectBoundingBox" x1="0" y1="0" x2="1" y2="0"><stop offset="0.0000" stop-color="#d9008c"/><stop offset="0.3211" stop-color="#d9008c"/><stop offset="0.3211" stop-color="#266cea"/></linearGradient>
<path d="M172.80,457.37 L173.80,457.25 L174.80,457.10 L175.80,456.93 L176.80,456.74 L177.80,456.54 L178.80,456.33 L179.80,456.12 L180.80,455.91 L181.80,455.69 L182.80,455.46 L183.80,455.22 L184.80,454.96 L185.80,454.69 L186.80,454.40 L187.80,454.11 L188.80,453.80 L189.80,453.51 L190.80,453.23 L191.80,452.97 L192.80,452.74 L193.80,452.54 L194.80,452.37 L195.80,452.25 L196.80,452.17 L197.80,452.14 L198.80,452.16 L199.80,452.22 L200.80,452.32 L201.80,452.45 L202.80,452.62 L203.80,452.81 L204.80,453.03 L205.80,453.27 L206.80,453.52 L207.80,453.77 L208.80,454.00 L209.80,454.21 L210.80,454.38 L210.80,462.78 L209.80,462.95 L208.80,463.16 L207.80,463.39 L206.80,463.64 L205.80,463.89 L204.80,464.13 L203.80,464.35 L202.80,464.54 L201.80,464.71 L200.80,464.84 L199.80,464.94 L198.80,465.00 L197.80,465.02 L196.80,464.99 L195.80,464.91 L194.80,464.79 L193.80,464.62 L192.80,464.42 L191.80,464.19 L190.80,463.93 L189.80,463.65 L188.80,463.36 L187.80,463.05 L186.80,462.76 L185.80,462.47 L184.80,462.20 L183.80,461.94 L182.80,461.70 L181.80,461.47 L180.80,461.25 L179.80,461.04 L178.80,460.83 L177.80,460.62 L176.80,460.42 L175.80,460.23 L174.80,460.06 L173.80,459.91 L172.80,459.79 Z" fill="url(#g5)"/>
<text x="29.80" y="480.35" font-size="8.5" text-anchor="end" fill="#333" stroke="#333" stroke-width="0.2" textLength="7.53" lengthAdjust="spacingAndGlyphs">f5</text>
<path d="M124.90,473.65 L125.90,473.59 L126.90,473.52 L127.90,473.43 L128.90,473.34 L129.90,473.25 L130.90,473.16 L131.90,473.07 L132.90,472.99 L133.90,472.93 L134.90,472.88 L135.90,472.84 L136.90,472.83 L137.90,472.83 L138.90,472.86 L139.90,472.91 L140.90,472.99 L141.90,473.08 L142.90,473.19 L143.90,473.32 L144.90,473.46 L145.90,473.61 L146.90,473.76 L147.90,473.92 L148.90,474.08 L149.90,474.24 L150.90,474.40 L151.90,474.57 L152.90,474.74 L153.90,474.91 L154.90,475.09 L155.90,475.27 L156.90,475.44 L157.90,475.62 L158.90,475.78 L159.90,475.92 L160.90,476.04 L161.20,476.08 L161.20,478.42 L160.90,478.46 L159.90,478.58 L158.90,478.72 L157.90,478.88 L156.90,479.06 L155.90,479.23 L154.90,479.41 L153.90,479.59 L152.90,479.76 L151.90,479.93 L150.90,480.10 L149.90,480.26 L148.90,480.42 L147.90,480.58 L146.90,480.74 L145.90,480.89 L144.90,481.04 L143.90,481.18 L142.90,481.31 L141.90,481.42 L140.90,481.51 L139.90,481.59 L138.90,481.64 L137.90,481.67 L136.90,481.67 L135.90,481.66 L134.90,481.62 L133.90,481.57 L132.90,481.51 L131.90,481.43 L130.90,481.34 L129.90,481.25 L128.90,481.16 L127.90,481.07 L126.90,480.98 L125.90,480.91 L124.90,480.85 Z" fill="#e9007c"/>
<linearGradient id="g6" gradientUnits="objectBoundingBox" x1="0" y1="0" x2="1" y2="0"><stop offset="0.0000" stop-color="#e9007c"/><stop offset="0.3211" stop-color="#e9007c"/><stop offset="0.3211" stop-color="#4664e4"/></linearGradient>
<path d="M173.00,476.05 L174.00,475.94 L175.00,475.80 L176.00,475.63 L177.00,475.45 L178.00,475.26 L179.00,475.06 L180.00,474.86 L181.00,474.66 L182.00,474.45 L183.00,474.23 L184.00,474.00 L185.00,473.76 L186.00,473.51 L187.00,473.23 L188.00,472.95 L189.00,472.66 L190.00,472.38 L191.00,472.11 L192.00,471.86 L193.00,471.64 L194.00,471.45 L195.00,471.30 L196.00,471.19 L197.00,471.11 L198.00,471.08 L199.00,471.08 L200.00,471.12 L201.00,471.19 L202.00,471.28 L203.00,471.41 L204.00,471.56 L205.00,471.73 L206.00,471.92 L207.00,472.14 L208.00,472.36 L209.00,472.57 L210.00,472.77 L211.00,472.93 L211.30,473.00 L211.30,481.50 L211.00,481.57 L210.00,481.73 L209.00,481.93 L208.00,482.14 L207.00,482.36 L206.00,482.58 L205.00,482.77 L204.00,482.94 L203.00,483.09 L202.00,483.22 L201.00,483.31 L200.00,483.38 L199.00,483.42 L198.00,483.42 L197.00,483.39 L196.00,483.31 L195.00,483.20 L194.00,483.05 L193.00,482.86 L192.00,482.64 L191.00,482.39 L190.00,482.12 L189.00,481.84 L188.00,481.55 L187.00,481.27 L186.00,480.99 L185.00,480.74 L184.00,480.50 L183.00,480.27 L182.00,480.05 L181.00,479.84 L180.00,479.64 L179.00,479.44 L178.00,479.24 L177.00,479.05 L176.00,478.87 L175.00,478.70 L174.00,478.56 L173.00,478.45 Z" fill="url(#g6)"/>
<text x="29.80" y="499.02" font-size="8.5" text-anchor="end" fill="#333" stroke="#333" stroke-width="0.2" textLength="12.38" lengthAdjust="spacingAndGlyphs">f21</text>
<path d="M128.00,492.30 L129.00,492.23 L130.00,492.15 L131.00,492.05 L132.00,491.94 L133.00,491.83 L134.00,491.73 L135.00,491.63 L136.00,491.55 L137.00,491.49 L138.00,491.44 L139.00,491.42 L140.00,491.44 L141.00,491.48 L142.00,491.56 L143.00,491.67 L144.00,491.80 L145.00,491.96 L146.00,492.14 L147.00,492.33 L148.00,492.52 L149.00,492.71 L150.00,492.91 L151.00,493.10 L152.00,493.29 L153.00,493.48 L154.00,493.68 L155.00,493.87 L156.00,494.06 L157.00,494.24 L158.00,494.42 L159.00,494.57 L160.00,494.69 L160.30,494.74 L160.30,497.10 L160.00,497.15 L159.00,497.27 L158.00,497.42 L157.00,497.60 L156.00,497.78 L155.00,497.97 L154.00,498.16 L153.00,498.36 L152.00,498.55 L151.00,498.74 L150.00,498.93 L149.00,499.13 L148.00,499.32 L147.00,499.51 L146.00,499.70 L145.00,499.88 L144.00,500.04 L143.00,500.17 L142.00,500.28 L141.00,500.36 L140.00,500.40 L139.00,500.42 L138.00,500.40 L137.00,500.35 L136.00,500.29 L135.00,500.21 L134.00,500.11 L133.00,500.01 L132.00,499.90 L131.00,499.79 L130.00,499.69 L129.00,499.61 L128.00,499.54 Z" fill="#0082f8"/>
<linearGradient id="g7" gradientUnits="objectBoundingBox" x1="0" y1="0" x2="1" y2="0"><stop offset="0.0000" stop-color="#0082f8"/><stop offset="0.3248" stop-color="#0082f8"/><stop offset="0.3248" stop-color="#b900a0"/></linearGradient>
<path d="M172.70,494.71 L173.70,494.58 L174.70,494.43 L175.70,494.25 L176.70,494.05 L177.70,493.84 L178.70,493.63 L179.70,493.41 L180.70,493.19 L181.70,492.96 L182.70,492.72 L183.70,492.48 L184.70,492.22 L185.70,491.95 L186.70,491.67 L187.70,491.39 L188.70,491.10 L189.70,490.82 L190.70,490.55 L191.70,490.30 L192.70,490.08 L193.70,489.88 L194.70,489.72 L195.70,489.60 L196.70,489.53 L197.70,489.51 L198.70,489.55 L199.70,489.64 L200.70,489.77 L201.70,489.95 L202.70,490.16 L203.70,490.40 L204.70,490.66 L205.70,490.91 L206.70,491.15 L207.70,491.35 L207.80,491.39 L207.80,500.45 L207.70,500.49 L206.70,500.69 L205.70,500.93 L204.70,501.18 L203.70,501.44 L202.70,501.68 L201.70,501.89 L200.70,502.07 L199.70,502.20 L198.70,502.29 L197.70,502.33 L196.70,502.31 L195.70,502.24 L194.70,502.12 L193.70,501.96 L192.70,501.76 L191.70,501.54 L190.70,501.29 L189.70,501.02 L188.70,500.74 L187.70,500.45 L186.70,500.17 L185.70,499.89 L184.70,499.62 L183.70,499.36 L182.70,499.12 L181.70,498.88 L180.70,498.65 L179.70,498.43 L178.70,498.21 L177.70,498.00 L176.70,497.79 L175.70,497.59 L174.70,497.41 L173.70,497.26 L172.70,497.13 Z" fill="url(#g7)"/>
<text x="29.80" y="517.69" font-size="8.5" text-anchor="end" fill="#333" stroke="#333" stroke-width="0.2" textLength="12.38" lengthAdjust="spacingAndGlyphs">f19</text>
<path d="M133.70,509.64 L134.70,509.55 L135.70,509.44 L136.70,509.32 L137.70,509.18 L138.70,509.04 L139.70,508.91 L140.70,508.79 L141.70,508.69 L142.70,508.60 L143.70,508.54 L144.70,508.51 L145.70,508.52 L146.70,508.56 L147.70,508.64 L148.70,508.76 L149.70,508.91 L150.70,509.09 L151.70,509.30 L152.70,509.52 L153.70,509.76 L154.70,510.01 L155.70,510.26 L156.70,510.52 L157.70,510.78 L158.70,511.04 L159.70,511.30 L160.70,511.57 L161.70,511.85 L162.70,512.12 L163.70,512.40 L164.70,512.66 L165.70,512.90 L166.70,513.12 L167.70,513.29 L167.80,513.32 L167.80,515.86 L167.70,515.89 L166.70,516.06 L165.70,516.28 L164.70,516.52 L163.70,516.78 L162.70,517.06 L161.70,517.33 L160.70,517.61 L159.70,517.88 L158.70,518.14 L157.70,518.40 L156.70,518.66 L155.70,518.92 L154.70,519.17 L153.70,519.42 L152.70,519.66 L151.70,519.88 L150.70,520.09 L149.70,520.27 L148.70,520.42 L147.70,520.54 L146.70,520.62 L145.70,520.66 L144.70,520.67 L143.70,520.64 L142.70,520.58 L141.70,520.49 L140.70,520.39 L139.70,520.27 L138.70,520.14 L137.70,520.00 L136.70,519.86 L135.70,519.74 L134.70,519.63 L133.70,519.54 Z" fill="#ec0078"/>
<linearGradient id="g8" gradientUnits="objectBoundingBox" x1="0" y1="0" x2="1" y2="0"><stop offset="0.0000" stop-color="#ec0078"/><stop offset="0.3362" stop-color="#ec0078"/><stop offset="0.3362" stop-color="#6459da"/></linearGradient>
<path d="M176.20,513.38 L177.20,513.25 L178.20,513.10 L179.20,512.92 L180.20,512.72 L181.20,512.52 L182.20,512.30 L183.20,512.08 L184.20,511.86 L185.20,511.63 L186.20,511.39 L187.20,511.14 L188.20,510.87 L189.20,510.59 L190.20,510.30 L191.20,509.99 L192.20,509.68 L193.20,509.39 L194.20,509.11 L195.20,508.86 L196.20,508.64 L197.20,508.46 L198.20,508.32 L199.20,508.22 L200.20,508.16 L201.20,508.15 L202.20,508.18 L203.20,508.26 L204.20,508.38 L205.20,508.53 L206.20,508.71 L207.20,508.92 L208.20,509.15 L209.20,509.37 L210.20,509.58 L211.20,509.76 L211.30,509.80 L211.30,519.38 L211.20,519.42 L210.20,519.60 L209.20,519.81 L208.20,520.03 L207.20,520.26 L206.20,520.47 L205.20,520.65 L204.20,520.80 L203.20,520.92 L202.20,521.00 L201.20,521.03 L200.20,521.02 L199.20,520.96 L198.20,520.86 L197.20,520.72 L196.20,520.54 L195.20,520.32 L194.20,520.07 L193.20,519.79 L192.20,519.50 L191.20,519.19 L190.20,518.88 L189.20,518.59 L188.20,518.31 L187.20,518.04 L186.20,517.79 L185.20,517.55 L184.20,517.32 L183.20,517.10 L182.20,516.88 L181.20,516.66 L180.20,516.46 L179.20,516.26 L178.20,516.08 L177.20,515.93 L176.20,515.80 Z" fill="url(#g8)"/>
<text x="29.80" y="536.36" font-size="8.5" text-anchor="end" fill="#333" stroke="#333" stroke-width="0.2" textLength="12.38" lengthAdjust="spacingAndGlyphs">f16</text>
<path d="M127.50,529.96 L128.50,529.90 L129.50,529.83 L130.50,529.75 L131.50,529.66 L132.50,529.58 L133.50,529.50 L134.50,529.43 L135.50,529.38 L136.50,529.35 L137.50,529.35 L138.50,529.37 L139.50,529.41 L140.50,529.48 L141.50,529.57 L142.50,529.68 L143.50,529.80 L144.50,529.94 L145.50,530.09 L146.50,530.23 L147.50,530.39 L148.50,530.54 L149.50,530.70 L150.50,530.86 L151.50,531.02 L152.50,531.19 L153.50,531.36 L154.50,531.52 L155.50,531.68 L156.50,531.83 L157.50,531.96 L158.50,532.07 L158.70,532.09 L158.70,534.43 L158.50,534.45 L157.50,534.56 L156.50,534.69 L155.50,534.84 L154.50,535.00 L153.50,535.16 L152.50,535.33 L151.50,535.50 L150.50,535.66 L149.50,535.82 L148.50,535.98 L147.50,536.13 L146.50,536.29 L145.50,536.43 L144.50,536.58 L143.50,536.72 L142.50,536.84 L141.50,536.95 L140.50,537.04 L139.50,537.11 L138.50,537.15 L137.50,537.17 L136.50,537.17 L135.50,537.14 L134.50,537.09 L133.50,537.02 L132.50,536.94 L131.50,536.86 L130.50,536.77 L129.50,536.69 L128.50,536.62 L127.50,536.56 Z" fill="#ec0078"/>
<linearGradient id="g9" gradientUnits="objectBoundingBox" x1="0" y1="0" x2="1" y2="0"><stop offset="0.0000" stop-color="#ec0078"/><stop offset="0.3099" stop-color="#ec0078"/><stop offset="0.3099" stop-color="#7350d2"/></linearGradient>
<path d="M173.00,532.03 L174.00,531.90 L175.00,531.73 L176.00,531.54 L177.00,531.33 L178.00,531.11 L179.00,530.87 L180.00,530.64 L181.00,530.39 L182.00,530.13 L183.00,529.86 L184.00,529.58 L185.00,529.28 L186.00,528.97 L187.00,528.65 L188.00,528.34 L189.00,528.04 L190.00,527.76 L191.00,527.51 L192.00,527.29 L193.00,527.11 L194.00,526.97 L195.00,526.88 L196.00,526.84 L197.00,526.85 L198.00,526.91 L199.00,527.02 L200.00,527.16 L201.00,527.34 L202.00,527.54 L203.00,527.76 L204.00,528.00 L205.00,528.23 L206.00,528.45 L207.00,528.62 L207.20,528.66 L207.20,537.86 L207.00,537.90 L206.00,538.07 L205.00,538.29 L204.00,538.52 L203.00,538.76 L202.00,538.98 L201.00,539.18 L200.00,539.36 L199.00,539.50 L198.00,539.61 L197.00,539.67 L196.00,539.68 L195.00,539.64 L194.00,539.55 L193.00,539.41 L192.00,539.23 L191.00,539.01 L190.00,538.76 L189.00,538.48 L188.00,538.18 L187.00,537.87 L186.00,537.55 L185.00,537.24 L184.00,536.94 L183.00,536.66 L182.00,536.39 L181.00,536.13 L180.00,535.88 L179.00,535.65 L178.00,535.41 L177.00,535.19 L176.00,534.98 L175.00,534.79 L174.00,534.62 L173.00,534.49 Z" fill="url(#g9)"/>
<text x="29.80" y="555.03" font-size="8.5" text-anchor="end" fill="#333" stroke="#333" stroke-width="0.2" textLength="12.38" lengthAdjust="spacingAndGlyphs">f22</text>
<path d="M133.70,547.81 L134.70,547.74 L135.70,547.66 L136.70,547.56 L137.70,547.46 L138.70,547.35 L139.70,547.25 L140.70,547.17 L141.70,547.10 L142.70,547.05 L143.70,547.03 L144.70,547.04 L145.70,547.08 L146.70,547.15 L147.70,547.26 L148.70,547.39 L149.70,547.55 L150.70,547.73 L151.70,547.93 L152.70,548.14 L153.70,548.35 L154.70,548.58 L155.70,548.81 L156.70,549.04 L157.70,549.28 L158.70,549.53 L159.70,549.78 L160.70,550.02 L161.70,550.25 L162.70,550.45 L163.70,550.62 L164.00,550.69 L164.00,553.17 L163.70,553.24 L162.70,553.41 L161.70,553.61 L160.70,553.84 L159.70,554.08 L158.70,554.33 L157.70,554.58 L156.70,554.82 L155.70,555.05 L154.70,555.28 L153.70,555.51 L152.70,555.72 L151.70,555.93 L150.70,556.13 L149.70,556.31 L148.70,556.47 L147.70,556.60 L146.70,556.71 L145.70,556.78 L144.70,556.82 L143.70,556.83 L142.70,556.81 L141.70,556.76 L140.70,556.69 L139.70,556.61 L138.70,556.51 L137.70,556.40 L136.70,556.30 L135.70,556.20 L134.70,556.12 L133.70,556.05 Z" fill="#0071ee"/>
<linearGradient id="g10" gradientUnits="objectBoundingBox" x1="0" y1="0" x2="1" y2="0"><stop offset="0.0000" stop-color="#0071ee"/><stop offset="0.3281" stop-color="#0071ee"/><stop offset="0.3281" stop-color="#ec0078"/></linearGradient>
<path d="M174.00,550.67 L175.00,550.52 L176.00,550.32 L177.00,550.10 L178.00,549.86 L179.00,549.60 L180.00,549.34 L181.00,549.07 L182.00,548.80 L183.00,548.53 L184.00,548.24 L185.00,547.95 L186.00,547.66 L187.00,547.35 L188.00,547.05 L189.00,546.76 L190.00,546.47 L191.00,546.21 L192.00,545.97 L193.00,545.77 L194.00,545.61 L195.00,545.52 L196.00,545.49 L197.00,545.52 L198.00,545.62 L199.00,545.77 L200.00,545.96 L201.00,546.19 L202.00,546.44 L203.00,546.69 L204.00,546.93 L205.00,547.15 L206.00,547.32 L206.00,556.54 L205.00,556.71 L204.00,556.93 L203.00,557.17 L202.00,557.42 L201.00,557.67 L200.00,557.90 L199.00,558.09 L198.00,558.24 L197.00,558.34 L196.00,558.37 L195.00,558.34 L194.00,558.25 L193.00,558.09 L192.00,557.89 L191.00,557.65 L190.00,557.39 L189.00,557.10 L188.00,556.81 L187.00,556.51 L186.00,556.20 L185.00,555.91 L184.00,555.62 L183.00,555.33 L182.00,555.06 L181.00,554.79 L180.00,554.52 L179.00,554.26 L178.00,554.00 L177.00,553.76 L176.00,553.54 L175.00,553.34 L174.00,553.19 Z" fill="url(#g10)"/>
<text x="29.80" y="573.70" font-size="8.5" text-anchor="end" fill="#333" stroke="#333" stroke-width="0.2" textLength="12.38" lengthAdjust="spacingAndGlyphs">f10</text>
<path d="M129.80,567.71 L130.80,567.66 L131.80,567.59 L132.80,567.52 L133.80,567.44 L134.80,567.37 L135.80,567.30 L136.80,567.24 L137.80,567.20 L138.80,567.18 L139.80,567.18 L140.80,567.19 L141.80,567.23 L142.80,567.29 L143.80,567.37 L144.80,567.46 L145.80,567.57 L146.80,567.69 L147.80,567.82 L148.80,567.96 L149.80,568.11 L150.80,568.28 L151.80,568.46 L152.80,568.65 L153.80,568.85 L154.80,569.03 L155.80,569.20 L156.80,569.34 L157.00,569.37 L157.00,571.83 L156.80,571.86 L155.80,572.00 L154.80,572.17 L153.80,572.35 L152.80,572.55 L151.80,572.74 L150.80,572.92 L149.80,573.09 L148.80,573.24 L147.80,573.38 L146.80,573.51 L145.80,573.63 L144.80,573.74 L143.80,573.83 L142.80,573.91 L141.80,573.97 L140.80,574.01 L139.80,574.02 L138.80,574.02 L137.80,574.00 L136.80,573.96 L135.80,573.90 L134.80,573.83 L133.80,573.76 L132.80,573.68 L131.80,573.61 L130.80,573.54 L129.80,573.49 Z" fill="#e9007c"/>
<linearGradient id="g11" gradientUnits="objectBoundingBox" x1="0" y1="0" x2="1" y2="0"><stop offset="0.0000" stop-color="#e9007c"/><stop offset="0.2952" stop-color="#e9007c"/><stop offset="0.2952" stop-color="#0084f9"/></linearGradient>
<path d="M171.70,569.36 L172.70,569.22 L173.70,569.05 L174.70,568.84 L175.70,568.62 L176.70,568.38 L177.70,568.13 L178.70,567.88 L179.70,567.61 L180.70,567.34 L181.70,567.05 L182.70,566.76 L183.70,566.45 L184.70,566.14 L185.70,565.83 L186.70,565.53 L187.70,565.24 L188.70,564.96 L189.70,564.72 L190.70,564.52 L191.70,564.37 L192.70,564.28 L193.70,564.27 L194.70,564.32 L195.70,564.43 L196.70,564.60 L197.70,564.80 L198.70,565.03 L199.70,565.27 L200.70,565.51 L201.70,565.73 L202.70,565.92 L203.20,566.00 L203.20,575.20 L202.70,575.28 L201.70,575.47 L200.70,575.69 L199.70,575.93 L198.70,576.17 L197.70,576.40 L196.70,576.60 L195.70,576.77 L194.70,576.88 L193.70,576.93 L192.70,576.92 L191.70,576.83 L190.70,576.68 L189.70,576.48 L188.70,576.24 L187.70,575.96 L186.70,575.67 L185.70,575.37 L184.70,575.06 L183.70,574.75 L182.70,574.44 L181.70,574.15 L180.70,573.86 L179.70,573.59 L178.70,573.32 L177.70,573.07 L176.70,572.82 L175.70,572.58 L174.70,572.36 L173.70,572.15 L172.70,571.98 L171.70,571.84 Z" fill="url(#g11)"/>
<text x="29.80" y="592.37" font-size="8.5" text-anchor="end" fill="#333" stroke="#333" stroke-width="0.2" textLength="12.38" lengthAdjust="spacingAndGlyphs">f17</text>
<path d="M134.50,585.16 L135.50,585.09 L136.50,585.01 L137.50,584.91 L138.50,584.81 L139.50,584.71 L140.50,584.61 L141.50,584.52 L142.50,584.45 L143.50,584.40 L144.50,584.38 L145.50,584.39 L146.50,584.43 L147.50,584.51 L148.50,584.62 L149.50,584.78 L150.50,584.96 L151.50,585.16 L152.50,585.38 L153.50,585.61 L154.50,585.85 L155.50,586.09 L156.50,586.34 L157.50,586.58 L158.50,586.83 L159.50,587.08 L160.50,587.33 L161.50,587.56 L162.50,587.76 L163.50,587.94 L164.00,588.01 L164.00,590.53 L163.50,590.60 L162.50,590.78 L161.50,590.98 L160.50,591.21 L159.50,591.46 L158.50,591.71 L157.50,591.96 L156.50,592.20 L155.50,592.45 L154.50,592.69 L153.50,592.93 L152.50,593.16 L151.50,593.38 L150.50,593.58 L149.50,593.76 L148.50,593.92 L147.50,594.03 L146.50,594.11 L145.50,594.15 L144.50,594.16 L143.50,594.14 L142.50,594.09 L141.50,594.02 L140.50,593.93 L139.50,593.83 L138.50,593.73 L137.50,593.63 L136.50,593.53 L135.50,593.45 L134.50,593.38 Z" fill="#ec0078"/>
<linearGradient id="g12" gradientUnits="objectBoundingBox" x1="0" y1="0" x2="1" y2="0"><stop offset="0.0000" stop-color="#ec0078"/><stop offset="0.3097" stop-color="#ec0078"/><stop offset="0.3097" stop-color="#7350d2"/></linearGradient>
<path d="M174.00,588.02 L175.00,587.87 L176.00,587.68 L177.00,587.47 L178.00,587.23 L179.00,586.98 L180.00,586.72 L181.00,586.46 L182.00,586.18 L183.00,585.90 L184.00,585.60 L185.00,585.29 L186.00,584.98 L187.00,584.66 L188.00,584.34 L189.00,584.04 L190.00,583.75 L191.00,583.49 L192.00,583.27 L193.00,583.09 L194.00,582.98 L195.00,582.92 L196.00,582.94 L197.00,583.02 L198.00,583.15 L199.00,583.33 L200.00,583.55 L201.00,583.78 L202.00,584.03 L203.00,584.27 L204.00,584.48 L205.00,584.66 L205.00,593.88 L204.00,594.06 L203.00,594.27 L202.00,594.51 L201.00,594.76 L200.00,594.99 L199.00,595.21 L198.00,595.39 L197.00,595.52 L196.00,595.60 L195.00,595.62 L194.00,595.56 L193.00,595.45 L192.00,595.27 L191.00,595.05 L190.00,594.79 L189.00,594.50 L188.00,594.20 L187.00,593.88 L186.00,593.56 L185.00,593.25 L184.00,592.94 L183.00,592.64 L182.00,592.36 L181.00,592.08 L180.00,591.82 L179.00,591.56 L178.00,591.31 L177.00,591.07 L176.00,590.86 L175.00,590.67 L174.00,590.52 Z" fill="url(#g12)"/>
<line x1="44.50" y1="607.9" x2="296.00" y2="607.9" stroke="#777" stroke-width="1"/>
<line x1="54.38" y1="607.9" x2="54.38" y2="610.2" stroke="#777" stroke-width="0.8"/>
<text x="54.38" y="617.80" font-size="7.7" text-anchor="middle" fill="#333" stroke="#333" stroke-width="0.2" textLength="17.48" lengthAdjust="spacingAndGlyphs">−0.6</text>
<line x1="93.02" y1="607.9" x2="93.02" y2="610.2" stroke="#777" stroke-width="0.8"/>
<text x="93.02" y="617.80" font-size="7.7" text-anchor="middle" fill="#333" stroke="#333" stroke-width="0.2" textLength="17.48" lengthAdjust="spacingAndGlyphs">−0.4</text>
<line x1="131.66" y1="607.9" x2="131.66" y2="610.2" stroke="#777" stroke-width="0.8"/>
<text x="131.66" y="617.80" font-size="7.7" text-anchor="middle" fill="#333" stroke="#333" stroke-width="0.2" textLength="17.48" lengthAdjust="spacingAndGlyphs">−0.2</text>
<line x1="170.30" y1="607.9" x2="170.30" y2="610.2" stroke="#777" stroke-width="0.8"/>
<text x="170.30" y="617.80" font-size="7.7" text-anchor="middle" fill="#333" stroke="#333" stroke-width="0.2" textLength="11.45" lengthAdjust="spacingAndGlyphs">0.0</text>
<line x1="208.94" y1="607.9" x2="208.94" y2="610.2" stroke="#777" stroke-width="0.8"/>
<text x="208.94" y="617.80" font-size="7.7" text-anchor="middle" fill="#333" stroke="#333" stroke-width="0.2" textLength="11.45" lengthAdjust="spacingAndGlyphs">0.2</text>
<line x1="247.58" y1="607.9" x2="247.58" y2="610.2" stroke="#777" stroke-width="0.8"/>
<text x="247.58" y="617.80" font-size="7.7" text-anchor="middle" fill="#333" stroke="#333" stroke-width="0.2" textLength="11.45" lengthAdjust="spacingAndGlyphs">0.4</text>
<line x1="286.22" y1="607.9" x2="286.22" y2="610.2" stroke="#777" stroke-width="0.8"/>
<text x="286.22" y="617.80" font-size="7.7" text-anchor="middle" fill="#333" stroke="#333" stroke-width="0.2" textLength="11.45" lengthAdjust="spacingAndGlyphs">0.6</text>
<text x="170.20" y="627.60" font-size="8.6" text-anchor="middle" fill="#333" stroke="#333" stroke-width="0.2" textLength="151.00" lengthAdjust="spacingAndGlyphs">SHAP value (impact on model output)</text>
<linearGradient id="cb13" x1="0" y1="0" x2="0" y2="1"><stop offset="0.000" stop-color="#ff0051"/><stop offset="0.050" stop-color="#fe005c"/><stop offset="0.100" stop-color="#f80067"/><stop offset="0.150" stop-color="#f10072"/><stop offset="0.200" stop-color="#e9007c"/><stop offset="0.250" stop-color="#df0086"/><stop offset="0.300" stop-color="#d40090"/><stop offset="0.350" stop-color="#c70098"/><stop offset="0.400" stop-color="#b900a0"/><stop offset="0.450" stop-color="#aa17a7"/><stop offset="0.500" stop-color="#9d22ac"/><stop offset="0.550" stop-color="#9233b9"/><stop offset="0.600" stop-color="#8542c5"/><stop offset="0.650" stop-color="#764ed0"/><stop offset="0.700" stop-color="#6459da"/><stop offset="0.750" stop-color="#4c63e3"/><stop offset="0.800" stop-color="#266cea"/><stop offset="0.850" stop-color="#0074f0"/><stop offset="0.900" stop-color="#007cf5"/><stop offset="0.950" stop-color="#0084f9"/><stop offset="1.000" stop-color="#008bfb"/></linearGradient>
<rect x="311.00" y="365.1" width="3.8" height="243.2" fill="url(#cb13)"/>
<text x="317.00" y="367.90" font-size="7.6" text-anchor="start" fill="#333" stroke="#333" stroke-width="0.2" textLength="15.50" lengthAdjust="spacingAndGlyphs">High</text>
<text x="317.00" y="610.70" font-size="7.6" text-anchor="start" fill="#333" stroke="#333" stroke-width="0.2" textLength="12.90" lengthAdjust="spacingAndGlyphs">Low</text>
<text x="337.50" y="487.00" font-size="7.4" text-anchor="middle" fill="#333" stroke="#333" stroke-width="0.2" textLength="50.00" lengthAdjust="spacingAndGlyphs" transform="rotate(-90 337.50 487.00)">Feature value</text>
<line x1="375.30" y1="383.90" x2="627.60" y2="383.90" stroke="#e6e6e6" stroke-width="0.7" stroke-dasharray="1,1.6"/>
<line x1="375.30" y1="402.57" x2="627.60" y2="402.57" stroke="#e6e6e6" stroke-width="0.7" stroke-dasharray="1,1.6"/>
<line x1="375.30" y1="421.24" x2="627.60" y2="421.24" stroke="#e6e6e6" stroke-width="0.7" stroke-dasharray="1,1.6"/>
<line x1="375.30" y1="439.91" x2="627.60" y2="439.91" stroke="#e6e6e6" stroke-width="0.7" stroke-dasharray="1,1.6"/>
<line x1="375.30" y1="458.58" x2="627.60" y2="458.58" stroke="#e6e6e6" stroke-width="0.7" stroke-dasharray="1,1.6"/>
<line x1="375.30" y1="477.25" x2="627.60" y2="477.25" stroke="#e6e6e6" stroke-width="0.7" stroke-dasharray="1,1.6"/>
<line x1="375.30" y1="495.92" x2="627.60" y2="495.92" stroke="#e6e6e6" stroke-width="0.7" stroke-dasharray="1,1.6"/>
<line x1="375.30" y1="514.59" x2="627.60" y2="514.59" stroke="#e6e6e6" stroke-width="0.7" stroke-dasharray="1,1.6"/>
<line x1="375.30" y1="533.26" x2="627.60" y2="533.26" stroke="#e6e6e6" stroke-width="0.7" stroke-dasharray="1,1.6"/>
<line x1="375.30" y1="551.93" x2="627.60" y2="551.93" stroke="#e6e6e6" stroke-width="0.7" stroke-dasharray="1,1.6"/>
<line x1="375.30" y1="570.60" x2="627.60" y2="570.60" stroke="#e6e6e6" stroke-width="0.7" stroke-dasharray="1,1.6"/>
<line x1="375.30" y1="589.27" x2="627.60" y2="589.27" stroke="#e6e6e6" stroke-width="0.7" stroke-dasharray="1,1.6"/>
<line x1="501.40" y1="365.3" x2="501.40" y2="607.4" stroke="#a8a8a8" stroke-width="1"/>
<text x="361.00" y="387.00" font-size="8.5" text-anchor="end" fill="#333" stroke="#333" stroke-width="0.2" textLength="7.53" lengthAdjust="spacingAndGlyphs">f4</text>
<linearGradient id="g14" gradientUnits="objectBoundingBox" x1="0" y1="0" x2="1" y2="0"><stop offset="0.0000" stop-color="#ff0051"/><stop offset="0.7044" stop-color="#ff0051"/><stop offset="0.7044" stop-color="#9d22ac"/></linearGradient>
<path d="M386.60,378.84 L387.60,378.80 L388.60,378.76 L389.60,378.71 L390.60,378.65 L391.60,378.60 L392.60,378.55 L393.60,378.50 L394.60,378.46 L395.60,378.42 L396.60,378.39 L397.60,378.36 L398.60,378.34 L399.60,378.31 L400.60,378.29 L401.60,378.28 L402.60,378.26 L403.60,378.24 L404.60,378.23 L405.60,378.21 L406.60,378.19 L407.60,378.18 L408.60,378.16 L409.60,378.15 L410.60,378.14 L411.60,378.12 L412.60,378.11 L413.60,378.10 L414.60,378.09 L415.60,378.08 L416.60,378.07 L417.60,378.06 L418.60,378.05 L419.60,378.05 L420.60,378.04 L421.60,378.03 L422.60,378.03 L423.60,378.03 L424.60,378.03 L425.60,378.03 L426.60,378.03 L427.60,378.03 L428.60,378.04 L429.60,378.04 L430.60,378.05 L431.60,378.06 L432.60,378.08 L433.60,378.10 L434.60,378.12 L435.60,378.14 L436.60,378.17 L437.60,378.21 L438.60,378.24 L439.60,378.28 L440.60,378.33 L441.60,378.37 L442.60,378.42 L443.60,378.48 L444.60,378.53 L445.60,378.59 L446.60,378.66 L447.60,378.72 L448.60,378.79 L449.60,378.86 L450.60,378.93 L451.60,379.00 L452.60,379.07 L453.60,379.14 L454.60,379.22 L455.60,379.29 L456.60,379.36 L457.60,379.43 L458.60,379.50 L459.60,379.57 L460.60,379.64 L461.60,379.71 L462.60,379.79 L463.60,379.86 L464.60,379.94 L465.60,380.01 L466.60,380.09 L467.60,380.17 L468.60,380.25 L469.60,380.34 L470.60,380.42 L471.60,380.50 L472.60,380.58 L473.60,380.66 L474.60,380.73 L475.60,380.80 L476.60,380.87 L477.60,380.94 L478.60,381.01 L479.60,381.07 L480.60,381.13 L481.60,381.18 L482.60,381.24 L483.60,381.29 L484.60,381.35 L485.60,381.40 L486.60,381.45 L487.60,381.49 L488.60,381.54 L489.60,381.58 L490.60,381.63 L491.60,381.67 L492.60,381.70 L493.60,381.74 L494.60,381.77 L495.60,381.80 L496.60,381.82 L497.60,381.84 L498.60,381.86 L499.60,381.87 L500.60,381.88 L501.60,381.89 L502.60,381.89 L503.60,381.89 L504.60,381.88 L505.60,381.87 L506.60,381.86 L507.60,381.84 L508.60,381.82 L509.60,381.79 L510.60,381.76 L511.60,381.72 L512.60,381.69 L513.60,381.64 L514.60,381.60 L515.60,381.55 L516.60,381.49 L517.60,381.44 L518.60,381.38 L519.60,381.31 L520.60,381.25 L521.60,381.17 L522.60,381.10 L523.60,381.02 L524.60,380.93 L525.60,380.84 L526.60,380.75 L527.60,380.66 L528.60,380.56 L529.60,380.47 L530.60,380.37 L531.60,380.27 L532.60,380.16 L533.60,380.06 L534.60,379.96 L535.60,379.85 L536.60,379.75 L537.60,379.65 L538.60,379.54 L539.60,379.44 L540.60,379.34 L541.60,379.24 L542.60,379.13 L543.60,379.02 L544.60,378.92 L545.60,378.81 L546.60,378.70 L547.60,378.59 L548.60,378.48 L549.60,378.38 L550.60,378.28 L551.60,378.19 L552.60,378.10 L553.60,378.02 L554.60,377.95 L555.60,377.88 L556.60,377.82 L557.60,377.76 L558.60,377.71 L559.60,377.65 L560.60,377.61 L561.60,377.56 L562.60,377.52 L563.60,377.49 L564.60,377.45 L565.60,377.42 L566.60,377.40 L567.60,377.37 L568.60,377.35 L569.60,377.34 L570.60,377.32 L571.60,377.32 L572.60,377.31 L573.60,377.31 L574.60,377.32 L575.60,377.33 L576.60,377.34 L577.60,377.36 L578.60,377.38 L579.60,377.41 L580.60,377.43 L581.60,377.47 L582.60,377.50 L583.60,377.55 L584.60,377.59 L585.60,377.64 L586.60,377.70 L587.60,377.76 L588.60,377.82 L589.60,377.89 L590.60,377.97 L591.60,378.05 L592.60,378.14 L593.60,378.24 L594.60,378.34 L595.60,378.45 L596.60,378.56 L597.60,378.68 L598.60,378.80 L599.60,378.92 L600.60,379.04 L601.60,379.16 L602.60,379.28 L603.60,379.39 L604.60,379.49 L605.60,379.56 L605.80,379.58 L605.80,388.22 L605.60,388.24 L604.60,388.31 L603.60,388.41 L602.60,388.52 L601.60,388.64 L600.60,388.76 L599.60,388.88 L598.60,389.00 L597.60,389.12 L596.60,389.24 L595.60,389.35 L594.60,389.46 L593.60,389.56 L592.60,389.66 L591.60,389.75 L590.60,389.83 L589.60,389.91 L588.60,389.98 L587.60,390.04 L586.60,390.10 L585.60,390.16 L584.60,390.21 L583.60,390.25 L582.60,390.30 L581.60,390.33 L580.60,390.37 L579.60,390.39 L578.60,390.42 L577.60,390.44 L576.60,390.46 L575.60,390.47 L574.60,390.48 L573.60,390.49 L572.60,390.49 L571.60,390.48 L570.60,390.48 L569.60,390.46 L568.60,390.45 L567.60,390.43 L566.60,390.40 L565.60,390.38 L564.60,390.35 L563.60,390.31 L562.60,390.28 L561.60,390.24 L560.60,390.19 L559.60,390.15 L558.60,390.09 L557.60,390.04 L556.60,389.98 L555.60,389.92 L554.60,389.85 L553.60,389.78 L552.60,389.70 L551.60,389.61 L550.60,389.52 L549.60,389.42 L548.60,389.32 L547.60,389.21 L546.60,389.10 L545.60,388.99 L544.60,388.88 L543.60,388.78 L542.60,388.67 L541.60,388.56 L540.60,388.46 L539.60,388.36 L538.60,388.26 L537.60,388.15 L536.60,388.05 L535.60,387.95 L534.60,387.84 L533.60,387.74 L532.60,387.64 L531.60,387.53 L530.60,387.43 L529.60,387.33 L528.60,387.24 L527.60,387.14 L526.60,387.05 L525.60,386.96 L524.60,386.87 L523.60,386.78 L522.60,386.70 L521.60,386.63 L520.60,386.55 L519.60,386.49 L518.60,386.42 L517.60,386.36 L516.60,386.31 L515.60,386.25 L514.60,386.20 L513.60,386.16 L512.60,386.11 L511.60,386.08 L510.60,386.04 L509.60,386.01 L508.60,385.98 L507.60,385.96 L506.60,385.94 L505.60,385.93 L504.60,385.92 L503.60,385.91 L502.60,385.91 L501.60,385.91 L500.60,385.92 L499.60,385.93 L498.60,385.94 L497.60,385.96 L496.60,385.98 L495.60,386.00 L494.60,386.03 L493.60,386.06 L492.60,386.10 L491.60,386.13 L490.60,386.17 L489.60,386.22 L488.60,386.26 L487.60,386.31 L486.60,386.35 L485.60,386.40 L484.60,386.45 L483.60,386.51 L482.60,386.56 L481.60,386.62 L480.60,386.67 L479.60,386.73 L478.60,386.79 L477.60,386.86 L476.60,386.93 L475.60,387.00 L474.60,387.07 L473.60,387.14 L472.60,387.22 L471.60,387.30 L470.60,387.38 L469.60,387.46 L468.60,387.55 L467.60,387.63 L466.60,387.71 L465.60,387.79 L464.60,387.86 L463.60,387.94 L462.60,388.01 L461.60,388.09 L460.60,388.16 L459.60,388.23 L458.60,388.30 L457.60,388.37 L456.60,388.44 L455.60,388.51 L454.60,388.58 L453.60,388.66 L452.60,388.73 L451.60,388.80 L450.60,388.87 L449.60,388.94 L448.60,389.01 L447.60,389.08 L446.60,389.14 L445.60,389.21 L444.60,389.27 L443.60,389.32 L442.60,389.38 L441.60,389.43 L440.60,389.47 L439.60,389.52 L438.60,389.56 L437.60,389.59 L436.60,389.63 L435.60,389.66 L434.60,389.68 L433.60,389.70 L432.60,389.72 L431.60,389.74 L430.60,389.75 L429.60,389.76 L428.60,389.76 L427.60,389.77 L426.60,389.77 L425.60,389.77 L424.60,389.77 L423.60,389.77 L422.60,389.77 L421.60,389.77 L420.60,389.76 L419.60,389.75 L418.60,389.75 L417.60,389.74 L416.60,389.73 L415.60,389.72 L414.60,389.71 L413.60,389.70 L412.60,389.69 L411.60,389.68 L410.60,389.66 L409.60,389.65 L408.60,389.64 L407.60,389.62 L406.60,389.61 L405.60,389.59 L404.60,389.57 L403.60,389.56 L402.60,389.54 L401.60,389.52 L400.60,389.51 L399.60,389.49 L398.60,389.46 L397.60,389.44 L396.60,389.41 L395.60,389.38 L394.60,389.34 L393.60,389.30 L392.60,389.25 L391.60,389.20 L390.60,389.15 L389.60,389.09 L388.60,389.04 L387.60,389.00 L386.60,388.96 Z" fill="url(#g14)"/>
<text x="361.00" y="405.67" font-size="8.5" text-anchor="end" fill="#333" stroke="#333" stroke-width="0.2" textLength="12.38" lengthAdjust="spacingAndGlyphs">f12</text>
<linearGradient id="g15" gradientUnits="objectBoundingBox" x1="0" y1="0" x2="1" y2="0"><stop offset="0.0000" stop-color="#007ff7"/><stop offset="0.4296" stop-color="#007ff7"/><stop offset="0.4296" stop-color="#266cea"/><stop offset="0.7050" stop-color="#266cea"/><stop offset="0.7050" stop-color="#b900a0"/></linearGradient>
<path d="M392.90,396.91 L393.90,396.88 L394.90,396.84 L395.90,396.79 L396.90,396.73 L397.90,396.68 L398.90,396.62 L399.90,396.56 L400.90,396.51 L401.90,396.45 L402.90,396.40 L403.90,396.34 L404.90,396.29 L405.90,396.25 L406.90,396.20 L407.90,396.16 L408.90,396.12 L409.90,396.08 L410.90,396.04 L411.90,396.01 L412.90,395.97 L413.90,395.94 L414.90,395.91 L415.90,395.88 L416.90,395.85 L417.90,395.83 L418.90,395.80 L419.90,395.78 L420.90,395.77 L421.90,395.75 L422.90,395.74 L423.90,395.73 L424.90,395.73 L425.90,395.74 L426.90,395.75 L427.90,395.76 L428.90,395.78 L429.90,395.81 L430.90,395.84 L431.90,395.87 L432.90,395.92 L433.90,395.96 L434.90,396.01 L435.90,396.07 L436.90,396.13 L437.90,396.19 L438.90,396.25 L439.90,396.32 L440.90,396.39 L441.90,396.46 L442.90,396.54 L443.90,396.61 L444.90,396.69 L445.90,396.76 L446.90,396.84 L447.90,396.91 L448.90,396.99 L449.90,397.07 L450.90,397.14 L451.90,397.22 L452.90,397.30 L453.90,397.38 L454.90,397.47 L455.90,397.55 L456.90,397.64 L457.90,397.73 L458.90,397.81 L459.90,397.90 L460.90,397.99 L461.90,398.08 L462.90,398.17 L463.90,398.26 L464.90,398.34 L465.90,398.43 L466.90,398.51 L467.90,398.60 L468.90,398.68 L469.90,398.76 L470.90,398.83 L471.90,398.91 L472.90,398.99 L473.90,399.06 L474.90,399.14 L475.90,399.21 L476.90,399.28 L477.90,399.35 L478.90,399.42 L479.90,399.49 L480.90,399.56 L481.90,399.63 L482.90,399.69 L483.90,399.76 L484.90,399.82 L485.90,399.88 L486.90,399.94 L487.90,400.00 L488.90,400.06 L489.90,400.12 L490.90,400.17 L491.90,400.22 L492.90,400.27 L493.90,400.32 L494.90,400.36 L495.90,400.39 L496.90,400.42 L497.90,400.44 L498.90,400.45 L499.90,400.46 L500.90,400.46 L501.90,400.45 L502.90,400.45 L503.90,400.44 L504.90,400.42 L505.90,400.41 L506.90,400.39 L507.90,400.37 L508.90,400.34 L509.90,400.32 L510.90,400.29 L511.90,400.26 L512.90,400.23 L513.90,400.19 L514.90,400.16 L515.90,400.12 L516.90,400.09 L517.90,400.05 L518.90,400.01 L519.90,399.97 L520.90,399.93 L521.90,399.89 L522.90,399.85 L523.90,399.81 L524.90,399.76 L525.90,399.72 L526.90,399.68 L527.90,399.63 L528.90,399.59 L529.90,399.54 L530.90,399.49 L531.90,399.45 L532.90,399.40 L533.90,399.36 L534.90,399.31 L535.90,399.26 L536.90,399.21 L537.90,399.16 L538.90,399.11 L539.90,399.06 L540.90,399.01 L541.90,398.96 L542.90,398.91 L543.90,398.85 L544.90,398.80 L545.90,398.74 L546.90,398.69 L547.90,398.63 L548.90,398.57 L549.90,398.50 L550.90,398.43 L551.90,398.36 L552.90,398.28 L553.90,398.20 L554.90,398.10 L555.90,398.00 L556.90,397.90 L557.90,397.79 L558.90,397.68 L559.90,397.57 L560.90,397.46 L561.90,397.36 L562.90,397.26 L563.90,397.18 L564.90,397.10 L565.90,397.03 L566.90,396.97 L567.90,396.92 L568.90,396.86 L569.90,396.81 L570.90,396.77 L571.90,396.73 L572.90,396.69 L573.90,396.65 L574.90,396.62 L575.90,396.59 L576.90,396.56 L577.90,396.54 L578.90,396.52 L579.90,396.50 L580.90,396.49 L581.90,396.49 L582.90,396.48 L583.90,396.49 L584.90,396.49 L585.90,396.50 L586.90,396.52 L587.90,396.54 L588.90,396.56 L589.90,396.59 L590.90,396.62 L591.90,396.66 L592.90,396.70 L593.90,396.74 L594.90,396.79 L595.90,396.84 L596.90,396.89 L597.90,396.95 L598.90,397.01 L599.90,397.08 L600.90,397.15 L601.90,397.23 L602.90,397.31 L603.90,397.39 L604.90,397.48 L605.90,397.57 L606.90,397.67 L607.90,397.76 L608.90,397.87 L609.90,397.97 L610.90,398.07 L611.90,398.17 L612.90,398.27 L613.90,398.37 L614.90,398.45 L615.90,398.53 L616.60,398.57 L616.60,406.57 L615.90,406.61 L614.90,406.69 L613.90,406.77 L612.90,406.87 L611.90,406.97 L610.90,407.07 L609.90,407.17 L608.90,407.27 L607.90,407.38 L606.90,407.47 L605.90,407.57 L604.90,407.66 L603.90,407.75 L602.90,407.83 L601.90,407.91 L600.90,407.99 L599.90,408.06 L598.90,408.13 L597.90,408.19 L596.90,408.25 L595.90,408.30 L594.90,408.35 L593.90,408.40 L592.90,408.44 L591.90,408.48 L590.90,408.52 L589.90,408.55 L588.90,408.58 L587.90,408.60 L586.90,408.62 L585.90,408.64 L584.90,408.65 L583.90,408.65 L582.90,408.66 L581.90,408.65 L580.90,408.65 L579.90,408.64 L578.90,408.62 L577.90,408.60 L576.90,408.58 L575.90,408.55 L574.90,408.52 L573.90,408.49 L572.90,408.45 L571.90,408.41 L570.90,408.37 L569.90,408.33 L568.90,408.28 L567.90,408.22 L566.90,408.17 L565.90,408.11 L564.90,408.04 L563.90,407.96 L562.90,407.88 L561.90,407.78 L560.90,407.68 L559.90,407.57 L558.90,407.46 L557.90,407.35 L556.90,407.24 L555.90,407.14 L554.90,407.04 L553.90,406.94 L552.90,406.86 L551.90,406.78 L550.90,406.71 L549.90,406.64 L548.90,406.57 L547.90,406.51 L546.90,406.45 L545.90,406.40 L544.90,406.34 L543.90,406.29 L542.90,406.23 L541.90,406.18 L540.90,406.13 L539.90,406.08 L538.90,406.03 L537.90,405.98 L536.90,405.93 L535.90,405.88 L534.90,405.83 L533.90,405.78 L532.90,405.74 L531.90,405.69 L530.90,405.65 L529.90,405.60 L528.90,405.55 L527.90,405.51 L526.90,405.46 L525.90,405.42 L524.90,405.38 L523.90,405.33 L522.90,405.29 L521.90,405.25 L520.90,405.21 L519.90,405.17 L518.90,405.13 L517.90,405.09 L516.90,405.05 L515.90,405.02 L514.90,404.98 L513.90,404.95 L512.90,404.91 L511.90,404.88 L510.90,404.85 L509.90,404.82 L508.90,404.80 L507.90,404.77 L506.90,404.75 L505.90,404.73 L504.90,404.72 L503.90,404.70 L502.90,404.69 L501.90,404.69 L500.90,404.68 L499.90,404.68 L498.90,404.69 L497.90,404.70 L496.90,404.72 L495.90,404.75 L494.90,404.78 L493.90,404.82 L492.90,404.87 L491.90,404.92 L490.90,404.97 L489.90,405.02 L488.90,405.08 L487.90,405.14 L486.90,405.20 L485.90,405.26 L484.90,405.32 L483.90,405.38 L482.90,405.45 L481.90,405.51 L480.90,405.58 L479.90,405.65 L478.90,405.72 L477.90,405.79 L476.90,405.86 L475.90,405.93 L474.90,406.00 L473.90,406.08 L472.90,406.15 L471.90,406.23 L470.90,406.31 L469.90,406.38 L468.90,406.46 L467.90,406.54 L466.90,406.63 L465.90,406.71 L464.90,406.80 L463.90,406.88 L462.90,406.97 L461.90,407.06 L460.90,407.15 L459.90,407.24 L458.90,407.33 L457.90,407.41 L456.90,407.50 L455.90,407.59 L454.90,407.67 L453.90,407.76 L452.90,407.84 L451.90,407.92 L450.90,408.00 L449.90,408.07 L448.90,408.15 L447.90,408.23 L446.90,408.30 L445.90,408.38 L444.90,408.45 L443.90,408.53 L442.90,408.60 L441.90,408.68 L440.90,408.75 L439.90,408.82 L438.90,408.89 L437.90,408.95 L436.90,409.01 L435.90,409.07 L434.90,409.13 L433.90,409.18 L432.90,409.22 L431.90,409.27 L430.90,409.30 L429.90,409.33 L428.90,409.36 L427.90,409.38 L426.90,409.39 L425.90,409.40 L424.90,409.41 L423.90,409.41 L422.90,409.40 L421.90,409.39 L420.90,409.37 L419.90,409.36 L418.90,409.34 L417.90,409.31 L416.90,409.29 L415.90,409.26 L414.90,409.23 L413.90,409.20 L412.90,409.17 L411.90,409.13 L410.90,409.10 L409.90,409.06 L408.90,409.02 L407.90,408.98 L406.90,408.94 L405.90,408.89 L404.90,408.85 L403.90,408.80 L402.90,408.74 L401.90,408.69 L400.90,408.63 L399.90,408.58 L398.90,408.52 L397.90,408.46 L396.90,408.41 L395.90,408.35 L394.90,408.30 L393.90,408.26 L392.90,408.23 Z" fill="url(#g15)"/>
<text x="361.00" y="424.34" font-size="8.5" text-anchor="end" fill="#333" stroke="#333" stroke-width="0.2" textLength="12.38" lengthAdjust="spacingAndGlyphs">f20</text>
<linearGradient id="g16" gradientUnits="objectBoundingBox" x1="0" y1="0" x2="1" y2="0"><stop offset="0.0000" stop-color="#f00074"/><stop offset="0.7054" stop-color="#f00074"/><stop offset="0.7054" stop-color="#4664e4"/></linearGradient>
<path d="M412.00,416.59 L413.00,416.56 L414.00,416.52 L415.00,416.47 L416.00,416.43 L417.00,416.38 L418.00,416.33 L419.00,416.28 L420.00,416.24 L421.00,416.19 L422.00,416.15 L423.00,416.11 L424.00,416.08 L425.00,416.05 L426.00,416.04 L427.00,416.04 L428.00,416.05 L429.00,416.06 L430.00,416.09 L431.00,416.12 L432.00,416.15 L433.00,416.19 L434.00,416.23 L435.00,416.28 L436.00,416.32 L437.00,416.37 L438.00,416.42 L439.00,416.47 L440.00,416.52 L441.00,416.57 L442.00,416.62 L443.00,416.67 L444.00,416.72 L445.00,416.78 L446.00,416.83 L447.00,416.88 L448.00,416.94 L449.00,416.99 L450.00,417.04 L451.00,417.10 L452.00,417.15 L453.00,417.21 L454.00,417.26 L455.00,417.32 L456.00,417.38 L457.00,417.44 L458.00,417.50 L459.00,417.56 L460.00,417.62 L461.00,417.68 L462.00,417.74 L463.00,417.80 L464.00,417.86 L465.00,417.92 L466.00,417.97 L467.00,418.03 L468.00,418.09 L469.00,418.14 L470.00,418.19 L471.00,418.25 L472.00,418.30 L473.00,418.34 L474.00,418.39 L475.00,418.44 L476.00,418.48 L477.00,418.53 L478.00,418.57 L479.00,418.61 L480.00,418.66 L481.00,418.70 L482.00,418.74 L483.00,418.78 L484.00,418.82 L485.00,418.86 L486.00,418.90 L487.00,418.93 L488.00,418.97 L489.00,419.00 L490.00,419.04 L491.00,419.07 L492.00,419.09 L493.00,419.12 L494.00,419.14 L495.00,419.17 L496.00,419.18 L497.00,419.20 L498.00,419.21 L499.00,419.22 L500.00,419.23 L501.00,419.23 L502.00,419.23 L503.00,419.22 L504.00,419.21 L505.00,419.20 L506.00,419.18 L507.00,419.16 L508.00,419.14 L509.00,419.11 L510.00,419.08 L511.00,419.05 L512.00,419.01 L513.00,418.98 L514.00,418.94 L515.00,418.90 L516.00,418.85 L517.00,418.81 L518.00,418.76 L519.00,418.72 L520.00,418.67 L521.00,418.63 L522.00,418.58 L523.00,418.53 L524.00,418.49 L525.00,418.44 L526.00,418.39 L527.00,418.35 L528.00,418.30 L529.00,418.25 L530.00,418.20 L531.00,418.16 L532.00,418.11 L533.00,418.06 L534.00,418.01 L535.00,417.95 L536.00,417.90 L537.00,417.85 L538.00,417.80 L539.00,417.74 L540.00,417.69 L541.00,417.63 L542.00,417.57 L543.00,417.51 L544.00,417.45 L545.00,417.39 L546.00,417.33 L547.00,417.26 L548.00,417.19 L549.00,417.12 L550.00,417.05 L551.00,416.97 L552.00,416.88 L553.00,416.79 L554.00,416.68 L555.00,416.57 L556.00,416.44 L557.00,416.31 L558.00,416.17 L559.00,416.03 L560.00,415.88 L561.00,415.74 L562.00,415.61 L563.00,415.49 L564.00,415.38 L565.00,415.28 L566.00,415.19 L567.00,415.12 L568.00,415.05 L569.00,414.99 L570.00,414.94 L571.00,414.89 L572.00,414.84 L573.00,414.80 L574.00,414.77 L575.00,414.74 L576.00,414.71 L577.00,414.69 L578.00,414.68 L579.00,414.66 L580.00,414.66 L581.00,414.66 L582.00,414.66 L583.00,414.67 L584.00,414.68 L585.00,414.70 L586.00,414.73 L587.00,414.76 L588.00,414.80 L589.00,414.85 L590.00,414.90 L591.00,414.96 L592.00,415.02 L593.00,415.10 L594.00,415.18 L595.00,415.27 L596.00,415.37 L597.00,415.47 L598.00,415.58 L599.00,415.70 L600.00,415.83 L601.00,415.96 L602.00,416.10 L603.00,416.24 L604.00,416.38 L605.00,416.52 L606.00,416.66 L607.00,416.79 L608.00,416.92 L609.00,417.02 L609.90,417.10 L609.90,425.38 L609.00,425.46 L608.00,425.56 L607.00,425.69 L606.00,425.82 L605.00,425.96 L604.00,426.10 L603.00,426.24 L602.00,426.38 L601.00,426.52 L600.00,426.65 L599.00,426.78 L598.00,426.90 L597.00,427.01 L596.00,427.11 L595.00,427.21 L594.00,427.30 L593.00,427.38 L592.00,427.46 L591.00,427.52 L590.00,427.58 L589.00,427.63 L588.00,427.68 L587.00,427.72 L586.00,427.75 L585.00,427.78 L584.00,427.80 L583.00,427.81 L582.00,427.82 L581.00,427.82 L580.00,427.82 L579.00,427.82 L578.00,427.80 L577.00,427.79 L576.00,427.77 L575.00,427.74 L574.00,427.71 L573.00,427.68 L572.00,427.64 L571.00,427.59 L570.00,427.54 L569.00,427.49 L568.00,427.43 L567.00,427.36 L566.00,427.29 L565.00,427.20 L564.00,427.10 L563.00,426.99 L562.00,426.87 L561.00,426.74 L560.00,426.60 L559.00,426.45 L558.00,426.31 L557.00,426.17 L556.00,426.04 L555.00,425.91 L554.00,425.80 L553.00,425.69 L552.00,425.60 L551.00,425.51 L550.00,425.43 L549.00,425.36 L548.00,425.29 L547.00,425.22 L546.00,425.15 L545.00,425.09 L544.00,425.03 L543.00,424.97 L542.00,424.91 L541.00,424.85 L540.00,424.79 L539.00,424.74 L538.00,424.68 L537.00,424.63 L536.00,424.58 L535.00,424.53 L534.00,424.47 L533.00,424.42 L532.00,424.37 L531.00,424.32 L530.00,424.28 L529.00,424.23 L528.00,424.18 L527.00,424.13 L526.00,424.09 L525.00,424.04 L524.00,423.99 L523.00,423.95 L522.00,423.90 L521.00,423.85 L520.00,423.81 L519.00,423.76 L518.00,423.72 L517.00,423.67 L516.00,423.63 L515.00,423.58 L514.00,423.54 L513.00,423.50 L512.00,423.47 L511.00,423.43 L510.00,423.40 L509.00,423.37 L508.00,423.34 L507.00,423.32 L506.00,423.30 L505.00,423.28 L504.00,423.27 L503.00,423.26 L502.00,423.25 L501.00,423.25 L500.00,423.25 L499.00,423.26 L498.00,423.27 L497.00,423.28 L496.00,423.30 L495.00,423.31 L494.00,423.34 L493.00,423.36 L492.00,423.39 L491.00,423.41 L490.00,423.44 L489.00,423.48 L488.00,423.51 L487.00,423.55 L486.00,423.58 L485.00,423.62 L484.00,423.66 L483.00,423.70 L482.00,423.74 L481.00,423.78 L480.00,423.82 L479.00,423.87 L478.00,423.91 L477.00,423.95 L476.00,424.00 L475.00,424.04 L474.00,424.09 L473.00,424.14 L472.00,424.18 L471.00,424.23 L470.00,424.29 L469.00,424.34 L468.00,424.39 L467.00,424.45 L466.00,424.51 L465.00,424.56 L464.00,424.62 L463.00,424.68 L462.00,424.74 L461.00,424.80 L460.00,424.86 L459.00,424.92 L458.00,424.98 L457.00,425.04 L456.00,425.10 L455.00,425.16 L454.00,425.22 L453.00,425.27 L452.00,425.33 L451.00,425.38 L450.00,425.44 L449.00,425.49 L448.00,425.54 L447.00,425.60 L446.00,425.65 L445.00,425.70 L444.00,425.76 L443.00,425.81 L442.00,425.86 L441.00,425.91 L440.00,425.96 L439.00,426.01 L438.00,426.06 L437.00,426.11 L436.00,426.16 L435.00,426.20 L434.00,426.25 L433.00,426.29 L432.00,426.33 L431.00,426.36 L430.00,426.39 L429.00,426.42 L428.00,426.43 L427.00,426.44 L426.00,426.44 L425.00,426.43 L424.00,426.40 L423.00,426.37 L422.00,426.33 L421.00,426.29 L420.00,426.24 L419.00,426.20 L418.00,426.15 L417.00,426.10 L416.00,426.05 L415.00,426.01 L414.00,425.96 L413.00,425.92 L412.00,425.89 Z" fill="url(#g16)"/>
<text x="361.00" y="443.01" font-size="8.5" text-anchor="end" fill="#333" stroke="#333" stroke-width="0.2" textLength="7.53" lengthAdjust="spacingAndGlyphs">f5</text>
<linearGradient id="g17" gradientUnits="objectBoundingBox" x1="0" y1="0" x2="1" y2="0"><stop offset="0.0000" stop-color="#c5009a"/><stop offset="0.7031" stop-color="#c5009a"/><stop offset="0.7031" stop-color="#186deb"/></linearGradient>
<path d="M456.60,434.45 L457.60,434.36 L458.60,434.24 L459.60,434.11 L460.60,433.97 L461.60,433.83 L462.60,433.69 L463.60,433.57 L464.60,433.47 L465.60,433.40 L466.60,433.34 L467.60,433.32 L468.60,433.33 L469.60,433.37 L470.60,433.44 L471.60,433.53 L472.60,433.65 L473.60,433.79 L474.60,433.94 L475.60,434.11 L476.60,434.28 L477.60,434.47 L478.60,434.66 L479.60,434.86 L480.60,435.08 L481.60,435.30 L482.60,435.54 L483.60,435.79 L484.60,436.05 L485.60,436.31 L486.60,436.56 L487.60,436.81 L488.60,437.05 L489.60,437.27 L490.60,437.47 L491.60,437.66 L492.60,437.83 L493.60,437.99 L494.60,438.13 L495.60,438.25 L496.60,438.35 L497.60,438.43 L498.60,438.48 L499.60,438.50 L500.60,438.50 L501.60,438.46 L502.60,438.39 L503.60,438.30 L504.60,438.18 L505.60,438.05 L506.60,437.91 L507.60,437.76 L508.60,437.60 L509.60,437.44 L510.60,437.27 L511.60,437.09 L512.60,436.92 L513.60,436.74 L514.60,436.55 L515.60,436.37 L516.60,436.19 L517.60,436.01 L518.60,435.83 L519.60,435.65 L520.60,435.48 L521.60,435.31 L522.60,435.15 L523.60,434.99 L524.60,434.84 L525.60,434.70 L526.60,434.57 L527.60,434.45 L528.60,434.36 L529.60,434.28 L530.60,434.23 L531.60,434.22 L532.60,434.24 L533.60,434.29 L534.60,434.37 L535.60,434.49 L536.60,434.63 L537.60,434.80 L538.60,434.98 L539.60,435.17 L540.60,435.36 L541.60,435.53 L542.50,435.67 L542.50,444.15 L541.60,444.29 L540.60,444.46 L539.60,444.65 L538.60,444.84 L537.60,445.02 L536.60,445.19 L535.60,445.33 L534.60,445.45 L533.60,445.53 L532.60,445.58 L531.60,445.60 L530.60,445.59 L529.60,445.54 L528.60,445.46 L527.60,445.37 L526.60,445.25 L525.60,445.12 L524.60,444.98 L523.60,444.83 L522.60,444.67 L521.60,444.51 L520.60,444.34 L519.60,444.17 L518.60,443.99 L517.60,443.81 L516.60,443.63 L515.60,443.45 L514.60,443.27 L513.60,443.08 L512.60,442.90 L511.60,442.73 L510.60,442.55 L509.60,442.38 L508.60,442.22 L507.60,442.06 L506.60,441.91 L505.60,441.77 L504.60,441.64 L503.60,441.52 L502.60,441.43 L501.60,441.36 L500.60,441.32 L499.60,441.32 L498.60,441.34 L497.60,441.39 L496.60,441.47 L495.60,441.57 L494.60,441.69 L493.60,441.83 L492.60,441.99 L491.60,442.16 L490.60,442.35 L489.60,442.55 L488.60,442.77 L487.60,443.01 L486.60,443.26 L485.60,443.51 L484.60,443.77 L483.60,444.03 L482.60,444.28 L481.60,444.52 L480.60,444.74 L479.60,444.96 L478.60,445.16 L477.60,445.35 L476.60,445.54 L475.60,445.71 L474.60,445.88 L473.60,446.03 L472.60,446.17 L471.60,446.29 L470.60,446.38 L469.60,446.45 L468.60,446.49 L467.60,446.50 L466.60,446.48 L465.60,446.42 L464.60,446.35 L463.60,446.25 L462.60,446.13 L461.60,445.99 L460.60,445.85 L459.60,445.71 L458.60,445.58 L457.60,445.46 L456.60,445.37 Z" fill="url(#g17)"/>
<text x="361.00" y="461.68" font-size="8.5" text-anchor="end" fill="#333" stroke="#333" stroke-width="0.2" textLength="7.53" lengthAdjust="spacingAndGlyphs">f7</text>
<linearGradient id="g18" gradientUnits="objectBoundingBox" x1="0" y1="0" x2="1" y2="0"><stop offset="0.0000" stop-color="#fb0063"/><stop offset="0.7047" stop-color="#fb0063"/><stop offset="0.7047" stop-color="#4664e4"/></linearGradient>
<path d="M459.60,454.02 L460.60,453.93 L461.60,453.81 L462.60,453.68 L463.60,453.54 L464.60,453.41 L465.60,453.28 L466.60,453.17 L467.60,453.08 L468.60,453.02 L469.60,452.99 L470.60,452.99 L471.60,453.02 L472.60,453.09 L473.60,453.18 L474.60,453.30 L475.60,453.44 L476.60,453.60 L477.60,453.76 L478.60,453.94 L479.60,454.12 L480.60,454.31 L481.60,454.49 L482.60,454.66 L483.60,454.83 L484.60,455.00 L485.60,455.16 L486.60,455.32 L487.60,455.48 L488.60,455.64 L489.60,455.80 L490.60,455.95 L491.60,456.11 L492.60,456.26 L493.60,456.41 L494.60,456.55 L495.60,456.69 L496.60,456.81 L497.60,456.93 L498.60,457.03 L499.60,457.11 L500.60,457.16 L501.60,457.19 L502.60,457.18 L503.60,457.14 L504.60,457.07 L505.60,456.96 L506.60,456.83 L507.60,456.68 L508.60,456.53 L509.60,456.37 L510.60,456.22 L511.60,456.08 L512.60,455.93 L513.60,455.79 L514.60,455.65 L515.60,455.50 L516.60,455.35 L517.60,455.19 L518.60,455.02 L519.60,454.85 L520.60,454.66 L521.60,454.47 L522.60,454.26 L523.60,454.05 L524.60,453.83 L525.60,453.62 L526.60,453.40 L527.60,453.19 L528.60,453.00 L529.60,452.81 L530.60,452.65 L531.60,452.52 L532.60,452.41 L533.60,452.35 L534.60,452.33 L535.60,452.35 L536.60,452.41 L537.60,452.50 L538.60,452.63 L539.60,452.78 L540.60,452.95 L541.60,453.14 L542.60,453.34 L543.60,453.53 L544.60,453.70 L545.60,453.83 L545.60,463.33 L544.60,463.46 L543.60,463.63 L542.60,463.82 L541.60,464.02 L540.60,464.21 L539.60,464.38 L538.60,464.53 L537.60,464.66 L536.60,464.75 L535.60,464.81 L534.60,464.83 L533.60,464.81 L532.60,464.75 L531.60,464.64 L530.60,464.51 L529.60,464.35 L528.60,464.16 L527.60,463.97 L526.60,463.76 L525.60,463.54 L524.60,463.33 L523.60,463.11 L522.60,462.90 L521.60,462.69 L520.60,462.50 L519.60,462.31 L518.60,462.14 L517.60,461.97 L516.60,461.81 L515.60,461.66 L514.60,461.51 L513.60,461.37 L512.60,461.23 L511.60,461.08 L510.60,460.94 L509.60,460.79 L508.60,460.63 L507.60,460.48 L506.60,460.33 L505.60,460.20 L504.60,460.09 L503.60,460.02 L502.60,459.98 L501.60,459.97 L500.60,460.00 L499.60,460.05 L498.60,460.13 L497.60,460.23 L496.60,460.35 L495.60,460.47 L494.60,460.61 L493.60,460.75 L492.60,460.90 L491.60,461.05 L490.60,461.21 L489.60,461.36 L488.60,461.52 L487.60,461.68 L486.60,461.84 L485.60,462.00 L484.60,462.16 L483.60,462.33 L482.60,462.50 L481.60,462.67 L480.60,462.85 L479.60,463.04 L478.60,463.22 L477.60,463.40 L476.60,463.56 L475.60,463.72 L474.60,463.86 L473.60,463.98 L472.60,464.07 L471.60,464.14 L470.60,464.17 L469.60,464.17 L468.60,464.14 L467.60,464.08 L466.60,463.99 L465.60,463.88 L464.60,463.75 L463.60,463.62 L462.60,463.48 L461.60,463.35 L460.60,463.23 L459.60,463.14 Z" fill="url(#g18)"/>
<text x="361.00" y="480.35" font-size="8.5" text-anchor="end" fill="#333" stroke="#333" stroke-width="0.2" textLength="7.53" lengthAdjust="spacingAndGlyphs">f9</text>
<linearGradient id="g19" gradientUnits="objectBoundingBox" x1="0" y1="0" x2="1" y2="0"><stop offset="0.0000" stop-color="#ec0078"/><stop offset="0.7035" stop-color="#ec0078"/><stop offset="0.7035" stop-color="#4664e4"/></linearGradient>
<path d="M456.10,473.66 L457.10,473.60 L458.10,473.53 L459.10,473.45 L460.10,473.36 L461.10,473.27 L462.10,473.18 L463.10,473.10 L464.10,473.02 L465.10,472.96 L466.10,472.90 L467.10,472.85 L468.10,472.83 L469.10,472.82 L470.10,472.83 L471.10,472.86 L472.10,472.91 L473.10,472.98 L474.10,473.07 L475.10,473.17 L476.10,473.29 L477.10,473.42 L478.10,473.55 L479.10,473.69 L480.10,473.83 L481.10,473.98 L482.10,474.13 L483.10,474.28 L484.10,474.43 L485.10,474.59 L486.10,474.76 L487.10,474.92 L488.10,475.09 L489.10,475.26 L490.10,475.42 L491.10,475.57 L492.10,475.70 L493.10,475.81 L494.10,475.89 L495.10,475.95 L496.10,475.98 L497.10,475.98 L498.10,475.95 L499.10,475.90 L500.10,475.82 L501.10,475.72 L502.10,475.61 L503.10,475.49 L504.10,475.36 L505.10,475.22 L506.10,475.07 L507.10,474.92 L508.10,474.76 L509.10,474.59 L510.10,474.42 L511.10,474.25 L512.10,474.07 L513.10,473.89 L514.10,473.71 L515.10,473.52 L516.10,473.34 L517.10,473.16 L518.10,472.98 L519.10,472.80 L520.10,472.62 L521.10,472.44 L522.10,472.26 L523.10,472.08 L524.10,471.91 L525.10,471.74 L526.10,471.58 L527.10,471.44 L528.10,471.32 L529.10,471.24 L530.10,471.20 L531.10,471.20 L532.10,471.23 L533.10,471.30 L534.10,471.41 L535.10,471.54 L536.10,471.69 L537.10,471.88 L538.10,472.09 L539.10,472.32 L540.10,472.55 L541.10,472.76 L542.10,472.93 L542.10,481.57 L541.10,481.74 L540.10,481.95 L539.10,482.18 L538.10,482.41 L537.10,482.62 L536.10,482.81 L535.10,482.96 L534.10,483.09 L533.10,483.20 L532.10,483.27 L531.10,483.30 L530.10,483.30 L529.10,483.26 L528.10,483.18 L527.10,483.06 L526.10,482.92 L525.10,482.76 L524.10,482.59 L523.10,482.42 L522.10,482.24 L521.10,482.06 L520.10,481.88 L519.10,481.70 L518.10,481.52 L517.10,481.34 L516.10,481.16 L515.10,480.98 L514.10,480.79 L513.10,480.61 L512.10,480.43 L511.10,480.25 L510.10,480.08 L509.10,479.91 L508.10,479.74 L507.10,479.58 L506.10,479.43 L505.10,479.28 L504.10,479.14 L503.10,479.01 L502.10,478.89 L501.10,478.78 L500.10,478.68 L499.10,478.60 L498.10,478.55 L497.10,478.52 L496.10,478.52 L495.10,478.55 L494.10,478.61 L493.10,478.69 L492.10,478.80 L491.10,478.93 L490.10,479.08 L489.10,479.24 L488.10,479.41 L487.10,479.58 L486.10,479.74 L485.10,479.91 L484.10,480.07 L483.10,480.22 L482.10,480.37 L481.10,480.52 L480.10,480.67 L479.10,480.81 L478.10,480.95 L477.10,481.08 L476.10,481.21 L475.10,481.33 L474.10,481.43 L473.10,481.52 L472.10,481.59 L471.10,481.64 L470.10,481.67 L469.10,481.68 L468.10,481.67 L467.10,481.65 L466.10,481.60 L465.10,481.54 L464.10,481.48 L463.10,481.40 L462.10,481.32 L461.10,481.23 L460.10,481.14 L459.10,481.05 L458.10,480.97 L457.10,480.90 L456.10,480.84 Z" fill="url(#g19)"/>
<text x="361.00" y="499.02" font-size="8.5" text-anchor="end" fill="#333" stroke="#333" stroke-width="0.2" textLength="12.38" lengthAdjust="spacingAndGlyphs">f19</text>
<linearGradient id="g20" gradientUnits="objectBoundingBox" x1="0" y1="0" x2="1" y2="0"><stop offset="0.0000" stop-color="#ec0078"/><stop offset="0.7051" stop-color="#ec0078"/><stop offset="0.7051" stop-color="#8047c9"/></linearGradient>
<path d="M465.00,491.42 L466.00,491.37 L467.00,491.30 L468.00,491.22 L469.00,491.14 L470.00,491.07 L471.00,491.02 L472.00,490.98 L473.00,490.97 L474.00,490.98 L475.00,491.02 L476.00,491.09 L477.00,491.18 L478.00,491.30 L479.00,491.43 L480.00,491.58 L481.00,491.74 L482.00,491.91 L483.00,492.08 L484.00,492.25 L485.00,492.42 L486.00,492.59 L487.00,492.75 L488.00,492.91 L489.00,493.06 L490.00,493.22 L491.00,493.37 L492.00,493.52 L493.00,493.66 L494.00,493.80 L495.00,493.93 L496.00,494.05 L497.00,494.15 L498.00,494.23 L499.00,494.29 L500.00,494.32 L501.00,494.32 L502.00,494.30 L503.00,494.25 L504.00,494.17 L505.00,494.07 L506.00,493.96 L507.00,493.83 L508.00,493.70 L509.00,493.56 L510.00,493.43 L511.00,493.29 L512.00,493.15 L513.00,493.01 L514.00,492.87 L515.00,492.72 L516.00,492.57 L517.00,492.41 L518.00,492.24 L519.00,492.06 L520.00,491.88 L521.00,491.68 L522.00,491.47 L523.00,491.25 L524.00,491.03 L525.00,490.81 L526.00,490.59 L527.00,490.38 L528.00,490.20 L529.00,490.04 L530.00,489.91 L531.00,489.82 L532.00,489.77 L533.00,489.77 L534.00,489.80 L535.00,489.88 L536.00,489.99 L537.00,490.14 L538.00,490.31 L539.00,490.51 L540.00,490.72 L541.00,490.94 L542.00,491.14 L543.00,491.31 L543.00,500.53 L542.00,500.70 L541.00,500.90 L540.00,501.12 L539.00,501.33 L538.00,501.53 L537.00,501.70 L536.00,501.85 L535.00,501.96 L534.00,502.04 L533.00,502.07 L532.00,502.07 L531.00,502.02 L530.00,501.93 L529.00,501.80 L528.00,501.64 L527.00,501.46 L526.00,501.25 L525.00,501.03 L524.00,500.81 L523.00,500.59 L522.00,500.37 L521.00,500.16 L520.00,499.96 L519.00,499.78 L518.00,499.60 L517.00,499.43 L516.00,499.27 L515.00,499.12 L514.00,498.97 L513.00,498.83 L512.00,498.69 L511.00,498.55 L510.00,498.41 L509.00,498.28 L508.00,498.14 L507.00,498.01 L506.00,497.88 L505.00,497.77 L504.00,497.67 L503.00,497.59 L502.00,497.54 L501.00,497.52 L500.00,497.52 L499.00,497.55 L498.00,497.61 L497.00,497.69 L496.00,497.79 L495.00,497.91 L494.00,498.04 L493.00,498.18 L492.00,498.32 L491.00,498.47 L490.00,498.62 L489.00,498.78 L488.00,498.93 L487.00,499.09 L486.00,499.25 L485.00,499.42 L484.00,499.59 L483.00,499.76 L482.00,499.93 L481.00,500.10 L480.00,500.26 L479.00,500.41 L478.00,500.54 L477.00,500.66 L476.00,500.75 L475.00,500.82 L474.00,500.86 L473.00,500.87 L472.00,500.86 L471.00,500.82 L470.00,500.77 L469.00,500.70 L468.00,500.62 L467.00,500.54 L466.00,500.47 L465.00,500.42 Z" fill="url(#g20)"/>
<text x="361.00" y="517.69" font-size="8.5" text-anchor="end" fill="#333" stroke="#333" stroke-width="0.2" textLength="12.38" lengthAdjust="spacingAndGlyphs">f16</text>
<linearGradient id="g21" gradientUnits="objectBoundingBox" x1="0" y1="0" x2="1" y2="0"><stop offset="0.0000" stop-color="#ec0078"/><stop offset="0.7026" stop-color="#ec0078"/><stop offset="0.7026" stop-color="#7d49cc"/></linearGradient>
<path d="M459.30,510.28 L460.30,510.21 L461.30,510.13 L462.30,510.03 L463.30,509.94 L464.30,509.85 L465.30,509.77 L466.30,509.71 L467.30,509.67 L468.30,509.65 L469.30,509.66 L470.30,509.69 L471.30,509.75 L472.30,509.83 L473.30,509.93 L474.30,510.04 L475.30,510.17 L476.30,510.31 L477.30,510.45 L478.30,510.60 L479.30,510.75 L480.30,510.90 L481.30,511.05 L482.30,511.20 L483.30,511.34 L484.30,511.49 L485.30,511.63 L486.30,511.77 L487.30,511.90 L488.30,512.04 L489.30,512.18 L490.30,512.32 L491.30,512.46 L492.30,512.60 L493.30,512.73 L494.30,512.85 L495.30,512.97 L496.30,513.07 L497.30,513.16 L498.30,513.22 L499.30,513.26 L500.30,513.27 L501.30,513.23 L502.30,513.16 L503.30,513.04 L504.30,512.89 L505.30,512.70 L506.30,512.48 L507.30,512.25 L508.30,512.00 L509.30,511.74 L510.30,511.48 L511.30,511.21 L512.30,510.93 L513.30,510.66 L514.30,510.39 L515.30,510.12 L516.30,509.87 L517.30,509.62 L518.30,509.39 L519.30,509.17 L520.30,508.96 L521.30,508.77 L522.30,508.60 L523.30,508.45 L524.30,508.33 L525.30,508.22 L526.30,508.15 L527.30,508.11 L528.30,508.10 L529.30,508.13 L530.30,508.19 L531.30,508.29 L532.30,508.42 L533.30,508.58 L534.30,508.77 L535.30,508.99 L536.30,509.22 L537.30,509.45 L538.30,509.65 L539.00,509.78 L539.00,519.40 L538.30,519.53 L537.30,519.73 L536.30,519.96 L535.30,520.19 L534.30,520.41 L533.30,520.60 L532.30,520.76 L531.30,520.89 L530.30,520.99 L529.30,521.05 L528.30,521.08 L527.30,521.07 L526.30,521.03 L525.30,520.96 L524.30,520.85 L523.30,520.73 L522.30,520.58 L521.30,520.41 L520.30,520.22 L519.30,520.01 L518.30,519.79 L517.30,519.56 L516.30,519.31 L515.30,519.06 L514.30,518.79 L513.30,518.52 L512.30,518.25 L511.30,517.97 L510.30,517.70 L509.30,517.44 L508.30,517.18 L507.30,516.93 L506.30,516.70 L505.30,516.48 L504.30,516.29 L503.30,516.14 L502.30,516.02 L501.30,515.95 L500.30,515.91 L499.30,515.92 L498.30,515.96 L497.30,516.02 L496.30,516.11 L495.30,516.21 L494.30,516.33 L493.30,516.45 L492.30,516.58 L491.30,516.72 L490.30,516.86 L489.30,517.00 L488.30,517.14 L487.30,517.28 L486.30,517.41 L485.30,517.55 L484.30,517.69 L483.30,517.84 L482.30,517.98 L481.30,518.13 L480.30,518.28 L479.30,518.43 L478.30,518.58 L477.30,518.73 L476.30,518.87 L475.30,519.01 L474.30,519.14 L473.30,519.25 L472.30,519.35 L471.30,519.43 L470.30,519.49 L469.30,519.52 L468.30,519.53 L467.30,519.51 L466.30,519.47 L465.30,519.41 L464.30,519.33 L463.30,519.24 L462.30,519.15 L461.30,519.05 L460.30,518.97 L459.30,518.90 Z" fill="url(#g21)"/>
<text x="361.00" y="536.36" font-size="8.5" text-anchor="end" fill="#333" stroke="#333" stroke-width="0.2" textLength="12.38" lengthAdjust="spacingAndGlyphs">f21</text>
<linearGradient id="g22" gradientUnits="objectBoundingBox" x1="0" y1="0" x2="1" y2="0"><stop offset="0.0000" stop-color="#0082f8"/><stop offset="0.7021" stop-color="#0082f8"/><stop offset="0.7021" stop-color="#b900a0"/></linearGradient>
<path d="M459.60,529.45 L460.60,529.38 L461.60,529.30 L462.60,529.20 L463.60,529.11 L464.60,529.02 L465.60,528.95 L466.60,528.88 L467.60,528.84 L468.60,528.83 L469.60,528.83 L470.60,528.86 L471.60,528.91 L472.60,528.98 L473.60,529.07 L474.60,529.17 L475.60,529.28 L476.60,529.40 L477.60,529.52 L478.60,529.65 L479.60,529.78 L480.60,529.91 L481.60,530.04 L482.60,530.16 L483.60,530.29 L484.60,530.41 L485.60,530.53 L486.60,530.65 L487.60,530.77 L488.60,530.90 L489.60,531.02 L490.60,531.14 L491.60,531.26 L492.60,531.38 L493.60,531.50 L494.60,531.61 L495.60,531.71 L496.60,531.80 L497.60,531.87 L498.60,531.92 L499.60,531.95 L500.60,531.95 L501.60,531.91 L502.60,531.84 L503.60,531.73 L504.60,531.59 L505.60,531.43 L506.60,531.24 L507.60,531.05 L508.60,530.84 L509.60,530.64 L510.60,530.42 L511.60,530.21 L512.60,529.98 L513.60,529.74 L514.60,529.50 L515.60,529.24 L516.60,528.97 L517.60,528.70 L518.60,528.42 L519.60,528.15 L520.60,527.89 L521.60,527.64 L522.60,527.42 L523.60,527.23 L524.60,527.07 L525.60,526.95 L526.60,526.86 L527.60,526.80 L528.60,526.79 L529.60,526.81 L530.60,526.88 L531.60,526.98 L532.60,527.13 L533.60,527.30 L534.60,527.51 L535.60,527.75 L536.60,528.00 L537.60,528.24 L538.60,528.46 L539.50,528.65 L539.50,537.87 L538.60,538.06 L537.60,538.28 L536.60,538.52 L535.60,538.77 L534.60,539.01 L533.60,539.22 L532.60,539.39 L531.60,539.54 L530.60,539.64 L529.60,539.71 L528.60,539.73 L527.60,539.72 L526.60,539.66 L525.60,539.57 L524.60,539.45 L523.60,539.29 L522.60,539.10 L521.60,538.88 L520.60,538.63 L519.60,538.37 L518.60,538.10 L517.60,537.82 L516.60,537.55 L515.60,537.28 L514.60,537.02 L513.60,536.78 L512.60,536.54 L511.60,536.31 L510.60,536.10 L509.60,535.88 L508.60,535.68 L507.60,535.47 L506.60,535.28 L505.60,535.09 L504.60,534.93 L503.60,534.79 L502.60,534.68 L501.60,534.61 L500.60,534.57 L499.60,534.57 L498.60,534.60 L497.60,534.65 L496.60,534.72 L495.60,534.81 L494.60,534.91 L493.60,535.02 L492.60,535.14 L491.60,535.26 L490.60,535.38 L489.60,535.50 L488.60,535.62 L487.60,535.75 L486.60,535.87 L485.60,535.99 L484.60,536.11 L483.60,536.23 L482.60,536.36 L481.60,536.48 L480.60,536.61 L479.60,536.74 L478.60,536.87 L477.60,537.00 L476.60,537.12 L475.60,537.24 L474.60,537.35 L473.60,537.45 L472.60,537.54 L471.60,537.61 L470.60,537.66 L469.60,537.69 L468.60,537.69 L467.60,537.68 L466.60,537.64 L465.60,537.57 L464.60,537.50 L463.60,537.41 L462.60,537.32 L461.60,537.22 L460.60,537.14 L459.60,537.07 Z" fill="url(#g22)"/>
<text x="361.00" y="555.03" font-size="8.5" text-anchor="end" fill="#333" stroke="#333" stroke-width="0.2" textLength="12.38" lengthAdjust="spacingAndGlyphs">f22</text>
<linearGradient id="g23" gradientUnits="objectBoundingBox" x1="0" y1="0" x2="1" y2="0"><stop offset="0.0000" stop-color="#0082f8"/><stop offset="0.7033" stop-color="#0082f8"/><stop offset="0.7033" stop-color="#a31daa"/></linearGradient>
<path d="M465.00,547.94 L466.00,547.88 L467.00,547.82 L468.00,547.74 L469.00,547.67 L470.00,547.60 L471.00,547.54 L472.00,547.50 L473.00,547.48 L474.00,547.49 L475.00,547.52 L476.00,547.57 L477.00,547.64 L478.00,547.74 L479.00,547.85 L480.00,547.97 L481.00,548.11 L482.00,548.25 L483.00,548.39 L484.00,548.54 L485.00,548.69 L486.00,548.84 L487.00,548.99 L488.00,549.13 L489.00,549.28 L490.00,549.44 L491.00,549.59 L492.00,549.74 L493.00,549.90 L494.00,550.05 L495.00,550.19 L496.00,550.32 L497.00,550.43 L498.00,550.51 L499.00,550.57 L500.00,550.59 L501.00,550.56 L502.00,550.50 L503.00,550.39 L504.00,550.24 L505.00,550.06 L506.00,549.87 L507.00,549.66 L508.00,549.44 L509.00,549.22 L510.00,548.99 L511.00,548.77 L512.00,548.54 L513.00,548.30 L514.00,548.06 L515.00,547.80 L516.00,547.55 L517.00,547.28 L518.00,547.01 L519.00,546.75 L520.00,546.49 L521.00,546.26 L522.00,546.04 L523.00,545.86 L524.00,545.71 L525.00,545.60 L526.00,545.51 L527.00,545.47 L528.00,545.46 L529.00,545.50 L530.00,545.57 L531.00,545.70 L532.00,545.87 L533.00,546.08 L534.00,546.33 L535.00,546.59 L536.00,546.86 L537.00,547.10 L537.80,547.29 L537.80,556.57 L537.00,556.76 L536.00,557.00 L535.00,557.27 L534.00,557.53 L533.00,557.78 L532.00,557.99 L531.00,558.16 L530.00,558.29 L529.00,558.36 L528.00,558.40 L527.00,558.39 L526.00,558.35 L525.00,558.26 L524.00,558.15 L523.00,558.00 L522.00,557.82 L521.00,557.60 L520.00,557.37 L519.00,557.11 L518.00,556.85 L517.00,556.58 L516.00,556.31 L515.00,556.06 L514.00,555.80 L513.00,555.56 L512.00,555.32 L511.00,555.09 L510.00,554.87 L509.00,554.64 L508.00,554.42 L507.00,554.20 L506.00,553.99 L505.00,553.80 L504.00,553.62 L503.00,553.47 L502.00,553.36 L501.00,553.30 L500.00,553.27 L499.00,553.29 L498.00,553.35 L497.00,553.43 L496.00,553.54 L495.00,553.67 L494.00,553.81 L493.00,553.96 L492.00,554.12 L491.00,554.27 L490.00,554.42 L489.00,554.58 L488.00,554.73 L487.00,554.87 L486.00,555.02 L485.00,555.17 L484.00,555.32 L483.00,555.47 L482.00,555.61 L481.00,555.75 L480.00,555.89 L479.00,556.01 L478.00,556.12 L477.00,556.22 L476.00,556.29 L475.00,556.34 L474.00,556.37 L473.00,556.38 L472.00,556.36 L471.00,556.32 L470.00,556.26 L469.00,556.19 L468.00,556.12 L467.00,556.04 L466.00,555.98 L465.00,555.92 Z" fill="url(#g23)"/>
<text x="361.00" y="573.70" font-size="8.5" text-anchor="end" fill="#333" stroke="#333" stroke-width="0.2" textLength="12.38" lengthAdjust="spacingAndGlyphs">f17</text>
<linearGradient id="g24" gradientUnits="objectBoundingBox" x1="0" y1="0" x2="1" y2="0"><stop offset="0.0000" stop-color="#d9008c"/><stop offset="0.7043" stop-color="#d9008c"/><stop offset="0.7043" stop-color="#6f52d4"/></linearGradient>
<path d="M466.00,565.14 L467.00,565.04 L468.00,564.93 L469.00,564.79 L470.00,564.65 L471.00,564.51 L472.00,564.39 L473.00,564.28 L474.00,564.20 L475.00,564.14 L476.00,564.12 L477.00,564.14 L478.00,564.20 L479.00,564.29 L480.00,564.41 L481.00,564.57 L482.00,564.75 L483.00,564.95 L484.00,565.16 L485.00,565.39 L486.00,565.63 L487.00,565.88 L488.00,566.14 L489.00,566.42 L490.00,566.71 L491.00,567.01 L492.00,567.32 L493.00,567.63 L494.00,567.95 L495.00,568.26 L496.00,568.55 L497.00,568.82 L498.00,569.06 L499.00,569.25 L500.00,569.39 L501.00,569.48 L502.00,569.51 L503.00,569.47 L504.00,569.40 L505.00,569.28 L506.00,569.14 L507.00,568.99 L508.00,568.84 L509.00,568.69 L510.00,568.54 L511.00,568.40 L512.00,568.26 L513.00,568.12 L514.00,567.99 L515.00,567.86 L516.00,567.73 L517.00,567.62 L518.00,567.50 L519.00,567.40 L520.00,567.30 L521.00,567.20 L522.00,567.12 L523.00,567.04 L524.00,566.97 L525.00,566.92 L526.00,566.89 L527.00,566.88 L528.00,566.89 L529.00,566.93 L530.00,566.99 L531.00,567.07 L532.00,567.16 L533.00,567.25 L534.00,567.34 L535.00,567.42 L536.00,567.49 L536.00,573.71 L535.00,573.78 L534.00,573.86 L533.00,573.95 L532.00,574.04 L531.00,574.13 L530.00,574.21 L529.00,574.27 L528.00,574.31 L527.00,574.32 L526.00,574.31 L525.00,574.28 L524.00,574.23 L523.00,574.16 L522.00,574.08 L521.00,574.00 L520.00,573.90 L519.00,573.80 L518.00,573.70 L517.00,573.58 L516.00,573.47 L515.00,573.34 L514.00,573.21 L513.00,573.08 L512.00,572.94 L511.00,572.80 L510.00,572.66 L509.00,572.51 L508.00,572.36 L507.00,572.21 L506.00,572.06 L505.00,571.92 L504.00,571.80 L503.00,571.73 L502.00,571.69 L501.00,571.72 L500.00,571.81 L499.00,571.95 L498.00,572.14 L497.00,572.38 L496.00,572.65 L495.00,572.94 L494.00,573.25 L493.00,573.57 L492.00,573.88 L491.00,574.19 L490.00,574.49 L489.00,574.78 L488.00,575.06 L487.00,575.32 L486.00,575.57 L485.00,575.81 L484.00,576.04 L483.00,576.25 L482.00,576.45 L481.00,576.63 L480.00,576.79 L479.00,576.91 L478.00,577.00 L477.00,577.06 L476.00,577.08 L475.00,577.06 L474.00,577.00 L473.00,576.92 L472.00,576.81 L471.00,576.69 L470.00,576.55 L469.00,576.41 L468.00,576.27 L467.00,576.16 L466.00,576.06 Z" fill="url(#g24)"/>
<text x="361.00" y="592.37" font-size="8.5" text-anchor="end" fill="#333" stroke="#333" stroke-width="0.2" textLength="12.38" lengthAdjust="spacingAndGlyphs">f10</text>
<path d="M461.00,587.19 L462.00,587.14 L463.00,587.08 L464.00,587.01 L465.00,586.94 L466.00,586.88 L467.00,586.82 L468.00,586.77 L469.00,586.74 L470.00,586.73 L471.00,586.74 L472.00,586.76 L473.00,586.79 L474.00,586.84 L475.00,586.89 L476.00,586.96 L477.00,587.03 L478.00,587.11 L479.00,587.20 L480.00,587.29 L481.00,587.39 L482.00,587.49 L483.00,587.60 L484.00,587.71 L485.00,587.82 L486.00,587.93 L487.00,588.03 L488.00,588.11 L488.50,588.14 L488.50,590.40 L488.00,590.43 L487.00,590.51 L486.00,590.61 L485.00,590.72 L484.00,590.83 L483.00,590.94 L482.00,591.05 L481.00,591.15 L480.00,591.25 L479.00,591.34 L478.00,591.43 L477.00,591.51 L476.00,591.58 L475.00,591.65 L474.00,591.70 L473.00,591.75 L472.00,591.78 L471.00,591.80 L470.00,591.81 L469.00,591.80 L468.00,591.77 L467.00,591.72 L466.00,591.66 L465.00,591.60 L464.00,591.53 L463.00,591.46 L462.00,591.40 L461.00,591.35 Z" fill="#f00074"/>
<linearGradient id="g25" gradientUnits="objectBoundingBox" x1="0" y1="0" x2="1" y2="0"><stop offset="0.0000" stop-color="#f00074"/><stop offset="0.3441" stop-color="#f00074"/><stop offset="0.3441" stop-color="#6459da"/></linearGradient>
<path d="M501.00,588.24 L502.00,588.11 L503.00,587.95 L504.00,587.76 L505.00,587.55 L506.00,587.33 L507.00,587.10 L508.00,586.87 L509.00,586.64 L510.00,586.40 L511.00,586.16 L512.00,585.92 L513.00,585.66 L514.00,585.40 L515.00,585.14 L516.00,584.87 L517.00,584.59 L518.00,584.33 L519.00,584.07 L520.00,583.82 L521.00,583.58 L522.00,583.37 L523.00,583.19 L524.00,583.04 L525.00,582.93 L526.00,582.87 L527.00,582.87 L528.00,582.92 L529.00,583.04 L530.00,583.21 L531.00,583.42 L532.00,583.67 L533.00,583.93 L534.00,584.17 L535.00,584.38 L535.00,594.16 L534.00,594.37 L533.00,594.61 L532.00,594.87 L531.00,595.12 L530.00,595.33 L529.00,595.50 L528.00,595.62 L527.00,595.67 L526.00,595.67 L525.00,595.61 L524.00,595.50 L523.00,595.35 L522.00,595.17 L521.00,594.96 L520.00,594.72 L519.00,594.47 L518.00,594.21 L517.00,593.95 L516.00,593.67 L515.00,593.40 L514.00,593.14 L513.00,592.88 L512.00,592.62 L511.00,592.38 L510.00,592.14 L509.00,591.90 L508.00,591.67 L507.00,591.44 L506.00,591.21 L505.00,590.99 L504.00,590.78 L503.00,590.59 L502.00,590.43 L501.00,590.30 Z" fill="url(#g25)"/>
<line x1="375.30" y1="607.9" x2="627.60" y2="607.9" stroke="#777" stroke-width="1"/>
<line x1="384.88" y1="607.9" x2="384.88" y2="610.2" stroke="#777" stroke-width="0.8"/>
<text x="384.88" y="617.80" font-size="7.7" text-anchor="middle" fill="#333" stroke="#333" stroke-width="0.2" textLength="17.48" lengthAdjust="spacingAndGlyphs">−0.6</text>
<line x1="423.72" y1="607.9" x2="423.72" y2="610.2" stroke="#777" stroke-width="0.8"/>
<text x="423.72" y="617.80" font-size="7.7" text-anchor="middle" fill="#333" stroke="#333" stroke-width="0.2" textLength="17.48" lengthAdjust="spacingAndGlyphs">−0.4</text>
<line x1="462.56" y1="607.9" x2="462.56" y2="610.2" stroke="#777" stroke-width="0.8"/>
<text x="462.56" y="617.80" font-size="7.7" text-anchor="middle" fill="#333" stroke="#333" stroke-width="0.2" textLength="17.48" lengthAdjust="spacingAndGlyphs">−0.2</text>
<line x1="501.40" y1="607.9" x2="501.40" y2="610.2" stroke="#777" stroke-width="0.8"/>
<text x="501.40" y="617.80" font-size="7.7" text-anchor="middle" fill="#333" stroke="#333" stroke-width="0.2" textLength="11.45" lengthAdjust="spacingAndGlyphs">0.0</text>
<line x1="540.24" y1="607.9" x2="540.24" y2="610.2" stroke="#777" stroke-width="0.8"/>
<text x="540.24" y="617.80" font-size="7.7" text-anchor="middle" fill="#333" stroke="#333" stroke-width="0.2" textLength="11.45" lengthAdjust="spacingAndGlyphs">0.2</text>
<line x1="579.08" y1="607.9" x2="579.08" y2="610.2" stroke="#777" stroke-width="0.8"/>
<text x="579.08" y="617.80" font-size="7.7" text-anchor="middle" fill="#333" stroke="#333" stroke-width="0.2" textLength="11.45" lengthAdjust="spacingAndGlyphs">0.4</text>
<line x1="617.92" y1="607.9" x2="617.92" y2="610.2" stroke="#777" stroke-width="0.8"/>
<text x="617.92" y="617.80" font-size="7.7" text-anchor="middle" fill="#333" stroke="#333" stroke-width="0.2" textLength="11.45" lengthAdjust="spacingAndGlyphs">0.6</text>
<text x="501.30" y="627.60" font-size="8.6" text-anchor="middle" fill="#333" stroke="#333" stroke-width="0.2" textLength="151.00" lengthAdjust="spacingAndGlyphs">SHAP value (impact on model output)</text>
<linearGradient id="cb26" x1="0" y1="0" x2="0" y2="1"><stop offset="0.000" stop-color="#ff0051"/><stop offset="0.050" stop-color="#fe005c"/><stop offset="0.100" stop-color="#f80067"/><stop offset="0.150" stop-color="#f10072"/><stop offset="0.200" stop-color="#e9007c"/><stop offset="0.250" stop-color="#df0086"/><stop offset="0.300" stop-color="#d40090"/><stop offset="0.350" stop-color="#c70098"/><stop offset="0.400" stop-color="#b900a0"/><stop offset="0.450" stop-color="#aa17a7"/><stop offset="0.500" stop-color="#9d22ac"/><stop offset="0.550" stop-color="#9233b9"/><stop offset="0.600" stop-color="#8542c5"/><stop offset="0.650" stop-color="#764ed0"/><stop offset="0.700" stop-color="#6459da"/><stop offset="0.750" stop-color="#4c63e3"/><stop offset="0.800" stop-color="#266cea"/><stop offset="0.850" stop-color="#0074f0"/><stop offset="0.900" stop-color="#007cf5"/><stop offset="0.950" stop-color="#0084f9"/><stop offset="1.000" stop-color="#008bfb"/></linearGradient>
<rect x="642.90" y="365.1" width="3.8" height="243.2" fill="url(#cb26)"/>
<text x="648.90" y="367.90" font-size="7.6" text-anchor="start" fill="#333" stroke="#333" stroke-width="0.2" textLength="15.50" lengthAdjust="spacingAndGlyphs">High</text>
<text x="648.90" y="610.70" font-size="7.6" text-anchor="start" fill="#333" stroke="#333" stroke-width="0.2" textLength="12.90" lengthAdjust="spacingAndGlyphs">Low</text>
<text x="669.40" y="487.00" font-size="7.4" text-anchor="middle" fill="#333" stroke="#333" stroke-width="0.2" textLength="50.00" lengthAdjust="spacingAndGlyphs" transform="rotate(-90 669.40 487.00)">Feature value</text>
<text x="13.90" y="656.60" font-size="19.3" text-anchor="start" fill="#000" font-weight="bold">C</text>
<line x1="171.30" y1="679.3" x2="542.5" y2="679.3" stroke="#bbbbbb" stroke-width="0.8" stroke-dasharray="1,1.6"/>
<polyline points="173.2,659.3 178.1,661.7 189.8,662.3 194.2,664.0 219.9,664.0 224.9,666.6 232.2,667.2 243.8,667.5 254.0,668.7 267.2,669.0 277.4,670.1 296.4,671.0 300.8,672.2 316.8,672.8 322.7,673.6 331.4,673.9 335.8,674.8 349.0,675.1 360.0,675.7 371.7,677.4 381.9,679.2 403.8,680.1 414.0,681.2 430.0,682.1 443.2,682.4 449.0,684.2 463.6,684.7 469.5,686.5 482.6,688.2 495.8,688.5 508.9,690.0 516.2,692.6 529.3,692.9 541.0,693.5" fill="none" stroke="#333" stroke-width="1.1"/>
<text x="164.30" y="684.00" font-size="12.8" text-anchor="end" fill="#222" stroke="#222" stroke-width="0.2" textLength="19.60" lengthAdjust="spacingAndGlyphs">f(x)</text>
<rect x="171.30" y="699.30" width="51.00" height="20.37" fill="#ff0052"/>
<rect x="222.00" y="699.30" width="8.75" height="20.37" fill="#ffb3c8"/>
<rect x="230.45" y="699.30" width="25.65" height="20.37" fill="#ff0052"/>
<rect x="255.80" y="699.30" width="4.52" height="20.37" fill="#1a8cf5"/>
<rect x="260.02" y="699.30" width="25.65" height="20.37" fill="#ff0052"/>
<rect x="285.38" y="699.30" width="4.53" height="20.37" fill="#1a8cf5"/>
<rect x="289.60" y="699.30" width="21.43" height="20.37" fill="#ff0052"/>
<rect x="310.73" y="699.30" width="4.52" height="20.37" fill="#ffb3c8"/>
<rect x="314.95" y="699.30" width="4.53" height="20.37" fill="#1a8cf5"/>
<rect x="319.18" y="699.30" width="8.75" height="20.37" fill="#ff0052"/>
<rect x="327.62" y="699.30" width="4.53" height="20.37" fill="#1a8cf5"/>
<rect x="331.85" y="699.30" width="8.75" height="20.37" fill="#ff0052"/>
<rect x="340.30" y="699.30" width="4.52" height="20.37" fill="#ffb3c8"/>
<rect x="344.52" y="699.30" width="4.53" height="20.37" fill="#ff0052"/>
<rect x="348.75" y="699.30" width="4.53" height="20.37" fill="#1a8cf5"/>
<rect x="352.98" y="699.30" width="4.52" height="20.37" fill="#ff0052"/>
<rect x="357.20" y="699.30" width="17.20" height="20.37" fill="#1a8cf5"/>
<rect x="374.10" y="699.30" width="4.52" height="20.37" fill="#ff0052"/>
<rect x="378.32" y="699.30" width="4.52" height="20.37" fill="#1a8cf5"/>
<rect x="382.55" y="699.30" width="4.53" height="20.37" fill="#ff0052"/>
<rect x="386.77" y="699.30" width="8.75" height="20.37" fill="#1a8cf5"/>
<rect x="395.23" y="699.30" width="4.52" height="20.37" fill="#ff0052"/>
<rect x="399.45" y="699.30" width="4.52" height="20.37" fill="#ffb3c8"/>
<rect x="403.67" y="699.30" width="8.75" height="20.37" fill="#ff0052"/>
<rect x="412.12" y="699.30" width="4.53" height="20.37" fill="#1a8cf5"/>
<rect x="416.35" y="699.30" width="4.52" height="20.37" fill="#ff0052"/>
<rect x="420.57" y="699.30" width="12.98" height="20.37" fill="#1a8cf5"/>
<rect x="433.25" y="699.30" width="4.52" height="20.37" fill="#ff0052"/>
<rect x="437.47" y="699.30" width="4.53" height="20.37" fill="#1a8cf5"/>
<rect x="441.70" y="699.30" width="4.53" height="20.37" fill="#ff0052"/>
<rect x="445.93" y="699.30" width="4.52" height="20.37" fill="#ffb3c8"/>
<rect x="450.15" y="699.30" width="4.53" height="20.37" fill="#ff0052"/>
<rect x="454.38" y="699.30" width="4.52" height="20.37" fill="#1a8cf5"/>
<rect x="458.60" y="699.30" width="4.53" height="20.37" fill="#ff0052"/>
<rect x="462.82" y="699.30" width="34.10" height="20.37" fill="#1a8cf5"/>
<rect x="496.62" y="699.30" width="4.52" height="20.37" fill="#ff0052"/>
<rect x="500.85" y="699.30" width="42.55" height="20.37" fill="#1a8cf5"/>
<rect x="171.30" y="719.37" width="59.45" height="20.37" fill="#ff1d62"/>
<rect x="230.45" y="719.37" width="4.53" height="20.37" fill="#e2effb"/>
<rect x="234.68" y="719.37" width="59.45" height="20.37" fill="#ff1d62"/>
<rect x="293.82" y="719.37" width="4.53" height="20.37" fill="#0a86f5"/>
<rect x="298.05" y="719.37" width="51.00" height="20.37" fill="#ff1d62"/>
<rect x="348.75" y="719.37" width="8.75" height="20.37" fill="#0a86f5"/>
<rect x="357.20" y="719.37" width="12.98" height="20.37" fill="#ff1d62"/>
<rect x="369.88" y="719.37" width="8.75" height="20.37" fill="#0a86f5"/>
<rect x="378.32" y="719.37" width="12.98" height="20.37" fill="#ff1d62"/>
<rect x="391.00" y="719.37" width="8.75" height="20.37" fill="#0a86f5"/>
<rect x="399.45" y="719.37" width="4.52" height="20.37" fill="#ff1d62"/>
<rect x="403.67" y="719.37" width="8.75" height="20.37" fill="#0a86f5"/>
<rect x="412.12" y="719.37" width="4.53" height="20.37" fill="#ff1d62"/>
<rect x="416.35" y="719.37" width="4.52" height="20.37" fill="#0a86f5"/>
<rect x="420.57" y="719.37" width="4.52" height="20.37" fill="#e2effb"/>
<rect x="424.80" y="719.37" width="4.53" height="20.37" fill="#ff1d62"/>
<rect x="429.02" y="719.37" width="4.53" height="20.37" fill="#0a86f5"/>
<rect x="433.25" y="719.37" width="8.75" height="20.37" fill="#ff1d62"/>
<rect x="441.70" y="719.37" width="12.98" height="20.37" fill="#0a86f5"/>
<rect x="454.38" y="719.37" width="4.52" height="20.37" fill="#ff1d62"/>
<rect x="458.60" y="719.37" width="8.75" height="20.37" fill="#0a86f5"/>
<rect x="467.05" y="719.37" width="8.75" height="20.37" fill="#ff1d62"/>
<rect x="475.50" y="719.37" width="67.90" height="20.37" fill="#0a86f5"/>
<rect x="171.30" y="739.44" width="63.67" height="20.37" fill="#ff0a58"/>
<rect x="234.68" y="739.44" width="12.98" height="20.37" fill="#45a2f8"/>
<rect x="247.35" y="739.44" width="25.65" height="20.37" fill="#ff0a58"/>
<rect x="272.70" y="739.44" width="12.98" height="20.37" fill="#45a2f8"/>
<rect x="285.38" y="739.44" width="12.98" height="20.37" fill="#ff0a58"/>
<rect x="298.05" y="739.44" width="17.20" height="20.37" fill="#45a2f8"/>
<rect x="314.95" y="739.44" width="17.20" height="20.37" fill="#ff0a58"/>
<rect x="331.85" y="739.44" width="17.20" height="20.37" fill="#45a2f8"/>
<rect x="348.75" y="739.44" width="17.20" height="20.37" fill="#ff0a58"/>
<rect x="365.65" y="739.44" width="4.53" height="20.37" fill="#45a2f8"/>
<rect x="369.88" y="739.44" width="8.75" height="20.37" fill="#ff0a58"/>
<rect x="378.32" y="739.44" width="12.98" height="20.37" fill="#45a2f8"/>
<rect x="391.00" y="739.44" width="8.75" height="20.37" fill="#ff0a58"/>
<rect x="399.45" y="739.44" width="4.52" height="20.37" fill="#45a2f8"/>
<rect x="403.67" y="739.44" width="8.75" height="20.37" fill="#ff0a58"/>
<rect x="412.12" y="739.44" width="8.75" height="20.37" fill="#45a2f8"/>
<rect x="420.57" y="739.44" width="4.52" height="20.37" fill="#ff0a58"/>
<rect x="424.80" y="739.44" width="4.53" height="20.37" fill="#45a2f8"/>
<rect x="429.02" y="739.44" width="4.53" height="20.37" fill="#ff0a58"/>
<rect x="433.25" y="739.44" width="8.75" height="20.37" fill="#45a2f8"/>
<rect x="441.70" y="739.44" width="4.53" height="20.37" fill="#ff0a58"/>
<rect x="445.93" y="739.44" width="17.20" height="20.37" fill="#45a2f8"/>
<rect x="462.82" y="739.44" width="4.53" height="20.37" fill="#ff0a58"/>
<rect x="467.05" y="739.44" width="8.75" height="20.37" fill="#45a2f8"/>
<rect x="475.50" y="739.44" width="4.52" height="20.37" fill="#ff0a58"/>
<rect x="479.72" y="739.44" width="21.43" height="20.37" fill="#45a2f8"/>
<rect x="500.85" y="739.44" width="8.75" height="20.37" fill="#ff0a58"/>
<rect x="509.30" y="739.44" width="34.10" height="20.37" fill="#45a2f8"/>
<rect x="171.30" y="759.51" width="12.98" height="20.37" fill="#ff9ab6"/>
<rect x="183.98" y="759.51" width="4.52" height="20.37" fill="#a3d0fa"/>
<rect x="188.20" y="759.51" width="4.52" height="20.37" fill="#ff9ab6"/>
<rect x="192.43" y="759.51" width="4.52" height="20.37" fill="#a3d0fa"/>
<rect x="196.65" y="759.51" width="12.98" height="20.37" fill="#ff9ab6"/>
<rect x="209.33" y="759.51" width="4.52" height="20.37" fill="#a3d0fa"/>
<rect x="213.55" y="759.51" width="4.52" height="20.37" fill="#ff9ab6"/>
<rect x="217.78" y="759.51" width="4.52" height="20.37" fill="#a3d0fa"/>
<rect x="222.00" y="759.51" width="4.53" height="20.37" fill="#ff9ab6"/>
<rect x="226.23" y="759.51" width="4.52" height="20.37" fill="#a3d0fa"/>
<rect x="230.45" y="759.51" width="38.33" height="20.37" fill="#ff9ab6"/>
<rect x="268.48" y="759.51" width="4.52" height="20.37" fill="#a3d0fa"/>
<rect x="272.70" y="759.51" width="8.75" height="20.37" fill="#ff9ab6"/>
<rect x="281.15" y="759.51" width="4.53" height="20.37" fill="#a3d0fa"/>
<rect x="285.38" y="759.51" width="17.20" height="20.37" fill="#ff9ab6"/>
<rect x="302.27" y="759.51" width="4.53" height="20.37" fill="#a3d0fa"/>
<rect x="306.50" y="759.51" width="12.98" height="20.37" fill="#ff9ab6"/>
<rect x="319.18" y="759.51" width="12.98" height="20.37" fill="#a3d0fa"/>
<rect x="331.85" y="759.51" width="4.52" height="20.37" fill="#ff9ab6"/>
<rect x="336.07" y="759.51" width="12.98" height="20.37" fill="#a3d0fa"/>
<rect x="348.75" y="759.51" width="12.97" height="20.37" fill="#ff9ab6"/>
<rect x="361.42" y="759.51" width="4.53" height="20.37" fill="#a3d0fa"/>
<rect x="365.65" y="759.51" width="8.75" height="20.37" fill="#ff9ab6"/>
<rect x="374.10" y="759.51" width="4.52" height="20.37" fill="#a3d0fa"/>
<rect x="378.32" y="759.51" width="4.52" height="20.37" fill="#ff9ab6"/>
<rect x="382.55" y="759.51" width="8.75" height="20.37" fill="#a3d0fa"/>
<rect x="391.00" y="759.51" width="8.75" height="20.37" fill="#ff9ab6"/>
<rect x="399.45" y="759.51" width="17.20" height="20.37" fill="#a3d0fa"/>
<rect x="416.35" y="759.51" width="8.75" height="20.37" fill="#ff9ab6"/>
<rect x="424.80" y="759.51" width="4.53" height="20.37" fill="#a3d0fa"/>
<rect x="429.02" y="759.51" width="4.53" height="20.37" fill="#ff9ab6"/>
<rect x="433.25" y="759.51" width="12.98" height="20.37" fill="#a3d0fa"/>
<rect x="445.93" y="759.51" width="12.97" height="20.37" fill="#ff9ab6"/>
<rect x="458.60" y="759.51" width="4.53" height="20.37" fill="#a3d0fa"/>
<rect x="462.82" y="759.51" width="4.53" height="20.37" fill="#ff9ab6"/>
<rect x="467.05" y="759.51" width="8.75" height="20.37" fill="#a3d0fa"/>
<rect x="475.50" y="759.51" width="4.52" height="20.37" fill="#ff9ab6"/>
<rect x="479.72" y="759.51" width="4.53" height="20.37" fill="#a3d0fa"/>
<rect x="483.95" y="759.51" width="4.53" height="20.37" fill="#ff9ab6"/>
<rect x="488.18" y="759.51" width="4.52" height="20.37" fill="#a3d0fa"/>
<rect x="492.40" y="759.51" width="4.53" height="20.37" fill="#ff9ab6"/>
<rect x="496.62" y="759.51" width="4.52" height="20.37" fill="#a3d0fa"/>
<rect x="500.85" y="759.51" width="4.53" height="20.37" fill="#ff9ab6"/>
<rect x="505.07" y="759.51" width="8.75" height="20.37" fill="#a3d0fa"/>
<rect x="513.52" y="759.51" width="8.75" height="20.37" fill="#ff9ab6"/>
<rect x="521.97" y="759.51" width="8.75" height="20.37" fill="#a3d0fa"/>
<rect x="530.42" y="759.51" width="4.53" height="20.37" fill="#ff9ab6"/>
<rect x="534.65" y="759.51" width="8.75" height="20.37" fill="#a3d0fa"/>
<rect x="171.30" y="779.58" width="34.10" height="20.37" fill="#ffaac3"/>
<rect x="205.10" y="779.58" width="4.52" height="20.37" fill="#9ecdf9"/>
<rect x="209.33" y="779.58" width="46.77" height="20.37" fill="#ffaac3"/>
<rect x="255.80" y="779.58" width="17.20" height="20.37" fill="#9ecdf9"/>
<rect x="272.70" y="779.58" width="8.75" height="20.37" fill="#ffaac3"/>
<rect x="281.15" y="779.58" width="4.53" height="20.37" fill="#9ecdf9"/>
<rect x="285.38" y="779.58" width="34.10" height="20.37" fill="#ffaac3"/>
<rect x="319.18" y="779.58" width="12.98" height="20.37" fill="#9ecdf9"/>
<rect x="331.85" y="779.58" width="12.97" height="20.37" fill="#ffaac3"/>
<rect x="344.52" y="779.58" width="25.65" height="20.37" fill="#9ecdf9"/>
<rect x="369.88" y="779.58" width="4.53" height="20.37" fill="#ffaac3"/>
<rect x="374.10" y="779.58" width="4.52" height="20.37" fill="#9ecdf9"/>
<rect x="378.32" y="779.58" width="4.52" height="20.37" fill="#ffaac3"/>
<rect x="382.55" y="779.58" width="8.75" height="20.37" fill="#9ecdf9"/>
<rect x="391.00" y="779.58" width="8.75" height="20.37" fill="#ffaac3"/>
<rect x="399.45" y="779.58" width="12.98" height="20.37" fill="#9ecdf9"/>
<rect x="412.12" y="779.58" width="8.75" height="20.37" fill="#ffaac3"/>
<rect x="420.57" y="779.58" width="4.52" height="20.37" fill="#9ecdf9"/>
<rect x="424.80" y="779.58" width="8.75" height="20.37" fill="#ffaac3"/>
<rect x="433.25" y="779.58" width="8.75" height="20.37" fill="#9ecdf9"/>
<rect x="441.70" y="779.58" width="8.75" height="20.37" fill="#ffaac3"/>
<rect x="450.15" y="779.58" width="21.43" height="20.37" fill="#9ecdf9"/>
<rect x="471.27" y="779.58" width="4.53" height="20.37" fill="#ffaac3"/>
<rect x="475.50" y="779.58" width="4.52" height="20.37" fill="#9ecdf9"/>
<rect x="479.72" y="779.58" width="4.53" height="20.37" fill="#ffaac3"/>
<rect x="483.95" y="779.58" width="29.87" height="20.37" fill="#9ecdf9"/>
<rect x="513.52" y="779.58" width="4.53" height="20.37" fill="#ffaac3"/>
<rect x="517.75" y="779.58" width="4.52" height="20.37" fill="#9ecdf9"/>
<rect x="521.97" y="779.58" width="8.75" height="20.37" fill="#ffaac3"/>
<rect x="530.42" y="779.58" width="4.53" height="20.37" fill="#9ecdf9"/>
<rect x="534.65" y="779.58" width="4.53" height="20.37" fill="#ffaac3"/>
<rect x="538.88" y="779.58" width="4.52" height="20.37" fill="#9ecdf9"/>
<rect x="171.30" y="799.65" width="17.20" height="20.37" fill="#ffa0bb"/>
<rect x="188.20" y="799.65" width="4.52" height="20.37" fill="#a3d0fa"/>
<rect x="192.43" y="799.65" width="21.43" height="20.37" fill="#ffa0bb"/>
<rect x="213.55" y="799.65" width="4.52" height="20.37" fill="#a3d0fa"/>
<rect x="217.78" y="799.65" width="4.52" height="20.37" fill="#ffa0bb"/>
<rect x="222.00" y="799.65" width="4.53" height="20.37" fill="#a3d0fa"/>
<rect x="226.23" y="799.65" width="38.32" height="20.37" fill="#ffa0bb"/>
<rect x="264.25" y="799.65" width="8.75" height="20.37" fill="#a3d0fa"/>
<rect x="272.70" y="799.65" width="17.20" height="20.37" fill="#ffa0bb"/>
<rect x="289.60" y="799.65" width="8.75" height="20.37" fill="#a3d0fa"/>
<rect x="298.05" y="799.65" width="8.75" height="20.37" fill="#ffa0bb"/>
<rect x="306.50" y="799.65" width="8.75" height="20.37" fill="#a3d0fa"/>
<rect x="314.95" y="799.65" width="38.33" height="20.37" fill="#ffa0bb"/>
<rect x="352.98" y="799.65" width="4.52" height="20.37" fill="#a3d0fa"/>
<rect x="357.20" y="799.65" width="17.20" height="20.37" fill="#ffa0bb"/>
<rect x="374.10" y="799.65" width="4.52" height="20.37" fill="#a3d0fa"/>
<rect x="378.32" y="799.65" width="12.98" height="20.37" fill="#ffa0bb"/>
<rect x="391.00" y="799.65" width="8.75" height="20.37" fill="#a3d0fa"/>
<rect x="399.45" y="799.65" width="4.52" height="20.37" fill="#ffa0bb"/>
<rect x="403.67" y="799.65" width="12.98" height="20.37" fill="#a3d0fa"/>
<rect x="416.35" y="799.65" width="4.52" height="20.37" fill="#ffa0bb"/>
<rect x="420.57" y="799.65" width="46.78" height="20.37" fill="#a3d0fa"/>
<rect x="467.05" y="799.65" width="4.52" height="20.37" fill="#ffa0bb"/>
<rect x="471.27" y="799.65" width="8.75" height="20.37" fill="#a3d0fa"/>
<rect x="479.72" y="799.65" width="17.20" height="20.37" fill="#ffa0bb"/>
<rect x="496.62" y="799.65" width="12.98" height="20.37" fill="#a3d0fa"/>
<rect x="509.30" y="799.65" width="4.52" height="20.37" fill="#ffa0bb"/>
<rect x="513.52" y="799.65" width="4.53" height="20.37" fill="#a3d0fa"/>
<rect x="517.75" y="799.65" width="4.52" height="20.37" fill="#ffa0bb"/>
<rect x="521.97" y="799.65" width="21.43" height="20.37" fill="#a3d0fa"/>
<rect x="171.30" y="819.72" width="29.87" height="20.37" fill="#ff9db8"/>
<rect x="200.88" y="819.72" width="4.53" height="20.37" fill="#a0cffa"/>
<rect x="205.10" y="819.72" width="12.97" height="20.37" fill="#ff9db8"/>
<rect x="217.78" y="819.72" width="4.52" height="20.37" fill="#a0cffa"/>
<rect x="222.00" y="819.72" width="29.87" height="20.37" fill="#ff9db8"/>
<rect x="251.57" y="819.72" width="4.53" height="20.37" fill="#a0cffa"/>
<rect x="255.80" y="819.72" width="4.52" height="20.37" fill="#ff9db8"/>
<rect x="260.02" y="819.72" width="4.53" height="20.37" fill="#a0cffa"/>
<rect x="264.25" y="819.72" width="21.43" height="20.37" fill="#ff9db8"/>
<rect x="285.38" y="819.72" width="4.53" height="20.37" fill="#a0cffa"/>
<rect x="289.60" y="819.72" width="4.52" height="20.37" fill="#ff9db8"/>
<rect x="293.82" y="819.72" width="4.53" height="20.37" fill="#a0cffa"/>
<rect x="298.05" y="819.72" width="8.75" height="20.37" fill="#ff9db8"/>
<rect x="306.50" y="819.72" width="4.53" height="20.37" fill="#a0cffa"/>
<rect x="310.73" y="819.72" width="12.97" height="20.37" fill="#ff9db8"/>
<rect x="323.40" y="819.72" width="17.20" height="20.37" fill="#a0cffa"/>
<rect x="340.30" y="819.72" width="17.20" height="20.37" fill="#ff9db8"/>
<rect x="357.20" y="819.72" width="4.52" height="20.37" fill="#a0cffa"/>
<rect x="361.42" y="819.72" width="4.53" height="20.37" fill="#ff9db8"/>
<rect x="365.65" y="819.72" width="4.53" height="20.37" fill="#a0cffa"/>
<rect x="369.88" y="819.72" width="4.53" height="20.37" fill="#ff9db8"/>
<rect x="374.10" y="819.72" width="12.97" height="20.37" fill="#a0cffa"/>
<rect x="386.77" y="819.72" width="8.75" height="20.37" fill="#ff9db8"/>
<rect x="395.23" y="819.72" width="8.75" height="20.37" fill="#a0cffa"/>
<rect x="403.67" y="819.72" width="4.53" height="20.37" fill="#ff9db8"/>
<rect x="407.90" y="819.72" width="4.53" height="20.37" fill="#a0cffa"/>
<rect x="412.12" y="819.72" width="8.75" height="20.37" fill="#ff9db8"/>
<rect x="420.57" y="819.72" width="4.52" height="20.37" fill="#a0cffa"/>
<rect x="424.80" y="819.72" width="4.53" height="20.37" fill="#ff9db8"/>
<rect x="429.02" y="819.72" width="4.53" height="20.37" fill="#a0cffa"/>
<rect x="433.25" y="819.72" width="4.52" height="20.37" fill="#ff9db8"/>
<rect x="437.47" y="819.72" width="8.75" height="20.37" fill="#a0cffa"/>
<rect x="445.93" y="819.72" width="8.75" height="20.37" fill="#ff9db8"/>
<rect x="454.38" y="819.72" width="12.98" height="20.37" fill="#a0cffa"/>
<rect x="467.05" y="819.72" width="4.52" height="20.37" fill="#ff9db8"/>
<rect x="471.27" y="819.72" width="8.75" height="20.37" fill="#a0cffa"/>
<rect x="479.72" y="819.72" width="4.53" height="20.37" fill="#ff9db8"/>
<rect x="483.95" y="819.72" width="4.53" height="20.37" fill="#a0cffa"/>
<rect x="488.18" y="819.72" width="4.52" height="20.37" fill="#ff9db8"/>
<rect x="492.40" y="819.72" width="17.20" height="20.37" fill="#a0cffa"/>
<rect x="509.30" y="819.72" width="8.75" height="20.37" fill="#ff9db8"/>
<rect x="517.75" y="819.72" width="4.52" height="20.37" fill="#a0cffa"/>
<rect x="521.97" y="819.72" width="12.98" height="20.37" fill="#ff9db8"/>
<rect x="534.65" y="819.72" width="4.53" height="20.37" fill="#a0cffa"/>
<rect x="538.88" y="819.72" width="4.52" height="20.37" fill="#ff9db8"/>
<rect x="171.30" y="839.79" width="25.65" height="20.37" fill="#ff96b3"/>
<rect x="196.65" y="839.79" width="8.75" height="20.37" fill="#a8d3fa"/>
<rect x="205.10" y="839.79" width="4.52" height="20.37" fill="#ff96b3"/>
<rect x="209.33" y="839.79" width="8.75" height="20.37" fill="#a8d3fa"/>
<rect x="217.78" y="839.79" width="8.75" height="20.37" fill="#ff96b3"/>
<rect x="226.23" y="839.79" width="4.52" height="20.37" fill="#a8d3fa"/>
<rect x="230.45" y="839.79" width="12.98" height="20.37" fill="#ff96b3"/>
<rect x="243.12" y="839.79" width="12.98" height="20.37" fill="#a8d3fa"/>
<rect x="255.80" y="839.79" width="17.20" height="20.37" fill="#ff96b3"/>
<rect x="272.70" y="839.79" width="8.75" height="20.37" fill="#a8d3fa"/>
<rect x="281.15" y="839.79" width="17.20" height="20.37" fill="#ff96b3"/>
<rect x="298.05" y="839.79" width="4.52" height="20.37" fill="#a8d3fa"/>
<rect x="302.27" y="839.79" width="4.53" height="20.37" fill="#ff96b3"/>
<rect x="306.50" y="839.79" width="4.53" height="20.37" fill="#a8d3fa"/>
<rect x="310.73" y="839.79" width="8.75" height="20.37" fill="#ff96b3"/>
<rect x="319.18" y="839.79" width="4.52" height="20.37" fill="#a8d3fa"/>
<rect x="323.40" y="839.79" width="8.75" height="20.37" fill="#ff96b3"/>
<rect x="331.85" y="839.79" width="4.52" height="20.37" fill="#a8d3fa"/>
<rect x="336.07" y="839.79" width="8.75" height="20.37" fill="#ff96b3"/>
<rect x="344.52" y="839.79" width="4.53" height="20.37" fill="#a8d3fa"/>
<rect x="348.75" y="839.79" width="4.53" height="20.37" fill="#ff96b3"/>
<rect x="352.98" y="839.79" width="12.97" height="20.37" fill="#a8d3fa"/>
<rect x="365.65" y="839.79" width="4.53" height="20.37" fill="#ff96b3"/>
<rect x="369.88" y="839.79" width="4.53" height="20.37" fill="#a8d3fa"/>
<rect x="374.10" y="839.79" width="21.43" height="20.37" fill="#ff96b3"/>
<rect x="395.23" y="839.79" width="4.52" height="20.37" fill="#a8d3fa"/>
<rect x="399.45" y="839.79" width="17.20" height="20.37" fill="#ff96b3"/>
<rect x="416.35" y="839.79" width="12.97" height="20.37" fill="#a8d3fa"/>
<rect x="429.02" y="839.79" width="4.53" height="20.37" fill="#ff96b3"/>
<rect x="433.25" y="839.79" width="4.52" height="20.37" fill="#a8d3fa"/>
<rect x="437.47" y="839.79" width="4.53" height="20.37" fill="#ff96b3"/>
<rect x="441.70" y="839.79" width="17.20" height="20.37" fill="#a8d3fa"/>
<rect x="458.60" y="839.79" width="8.75" height="20.37" fill="#ff96b3"/>
<rect x="467.05" y="839.79" width="12.97" height="20.37" fill="#a8d3fa"/>
<rect x="479.72" y="839.79" width="4.53" height="20.37" fill="#ff96b3"/>
<rect x="483.95" y="839.79" width="4.53" height="20.37" fill="#a8d3fa"/>
<rect x="488.18" y="839.79" width="4.52" height="20.37" fill="#ff96b3"/>
<rect x="492.40" y="839.79" width="29.87" height="20.37" fill="#a8d3fa"/>
<rect x="521.97" y="839.79" width="4.53" height="20.37" fill="#ff96b3"/>
<rect x="526.20" y="839.79" width="17.20" height="20.37" fill="#a8d3fa"/>
<rect x="171.30" y="859.86" width="25.65" height="20.37" fill="#ffa8c1"/>
<rect x="196.65" y="859.86" width="4.52" height="20.37" fill="#a3d0fa"/>
<rect x="200.88" y="859.86" width="51.00" height="20.37" fill="#ffa8c1"/>
<rect x="251.57" y="859.86" width="4.53" height="20.37" fill="#a3d0fa"/>
<rect x="255.80" y="859.86" width="34.10" height="20.37" fill="#ffa8c1"/>
<rect x="289.60" y="859.86" width="4.52" height="20.37" fill="#a3d0fa"/>
<rect x="293.82" y="859.86" width="4.53" height="20.37" fill="#ffa8c1"/>
<rect x="298.05" y="859.86" width="8.75" height="20.37" fill="#a3d0fa"/>
<rect x="306.50" y="859.86" width="8.75" height="20.37" fill="#ffa8c1"/>
<rect x="314.95" y="859.86" width="12.98" height="20.37" fill="#a3d0fa"/>
<rect x="327.62" y="859.86" width="4.53" height="20.37" fill="#ffa8c1"/>
<rect x="331.85" y="859.86" width="12.97" height="20.37" fill="#a3d0fa"/>
<rect x="344.52" y="859.86" width="12.98" height="20.37" fill="#ffa8c1"/>
<rect x="357.20" y="859.86" width="8.75" height="20.37" fill="#a3d0fa"/>
<rect x="365.65" y="859.86" width="34.10" height="20.37" fill="#ffa8c1"/>
<rect x="399.45" y="859.86" width="4.52" height="20.37" fill="#a3d0fa"/>
<rect x="403.67" y="859.86" width="4.53" height="20.37" fill="#ffa8c1"/>
<rect x="407.90" y="859.86" width="17.20" height="20.37" fill="#a3d0fa"/>
<rect x="424.80" y="859.86" width="8.75" height="20.37" fill="#ffa8c1"/>
<rect x="433.25" y="859.86" width="4.52" height="20.37" fill="#a3d0fa"/>
<rect x="437.47" y="859.86" width="12.98" height="20.37" fill="#ffa8c1"/>
<rect x="450.15" y="859.86" width="4.53" height="20.37" fill="#a3d0fa"/>
<rect x="454.38" y="859.86" width="12.98" height="20.37" fill="#ffa8c1"/>
<rect x="467.05" y="859.86" width="4.52" height="20.37" fill="#a3d0fa"/>
<rect x="471.27" y="859.86" width="8.75" height="20.37" fill="#ffa8c1"/>
<rect x="479.72" y="859.86" width="4.53" height="20.37" fill="#a3d0fa"/>
<rect x="483.95" y="859.86" width="4.53" height="20.37" fill="#ffa8c1"/>
<rect x="488.18" y="859.86" width="8.75" height="20.37" fill="#a3d0fa"/>
<rect x="496.62" y="859.86" width="4.52" height="20.37" fill="#ffa8c1"/>
<rect x="500.85" y="859.86" width="4.53" height="20.37" fill="#a3d0fa"/>
<rect x="505.07" y="859.86" width="4.53" height="20.37" fill="#ffa8c1"/>
<rect x="509.30" y="859.86" width="34.10" height="20.37" fill="#a3d0fa"/>
<rect x="171.30" y="879.93" width="8.75" height="20.37" fill="#ffa6c0"/>
<rect x="179.75" y="879.93" width="4.53" height="20.37" fill="#a8d3fa"/>
<rect x="183.98" y="879.93" width="46.77" height="20.37" fill="#ffa6c0"/>
<rect x="230.45" y="879.93" width="12.98" height="20.37" fill="#a8d3fa"/>
<rect x="243.12" y="879.93" width="4.53" height="20.37" fill="#ffa6c0"/>
<rect x="247.35" y="879.93" width="4.52" height="20.37" fill="#a8d3fa"/>
<rect x="251.57" y="879.93" width="8.75" height="20.37" fill="#ffa6c0"/>
<rect x="260.02" y="879.93" width="8.75" height="20.37" fill="#a8d3fa"/>
<rect x="268.48" y="879.93" width="8.75" height="20.37" fill="#ffa6c0"/>
<rect x="276.93" y="879.93" width="4.52" height="20.37" fill="#a8d3fa"/>
<rect x="281.15" y="879.93" width="4.53" height="20.37" fill="#ffa6c0"/>
<rect x="285.38" y="879.93" width="8.75" height="20.37" fill="#a8d3fa"/>
<rect x="293.82" y="879.93" width="4.53" height="20.37" fill="#ffa6c0"/>
<rect x="298.05" y="879.93" width="4.52" height="20.37" fill="#a8d3fa"/>
<rect x="302.27" y="879.93" width="8.75" height="20.37" fill="#ffa6c0"/>
<rect x="310.73" y="879.93" width="4.52" height="20.37" fill="#a8d3fa"/>
<rect x="314.95" y="879.93" width="4.53" height="20.37" fill="#ffa6c0"/>
<rect x="319.18" y="879.93" width="8.75" height="20.37" fill="#a8d3fa"/>
<rect x="327.62" y="879.93" width="4.53" height="20.37" fill="#ffa6c0"/>
<rect x="331.85" y="879.93" width="4.52" height="20.37" fill="#a8d3fa"/>
<rect x="336.07" y="879.93" width="8.75" height="20.37" fill="#ffa6c0"/>
<rect x="344.52" y="879.93" width="4.53" height="20.37" fill="#a8d3fa"/>
<rect x="348.75" y="879.93" width="4.53" height="20.37" fill="#ffa6c0"/>
<rect x="352.98" y="879.93" width="4.52" height="20.37" fill="#a8d3fa"/>
<rect x="357.20" y="879.93" width="21.43" height="20.37" fill="#ffa6c0"/>
<rect x="378.32" y="879.93" width="8.75" height="20.37" fill="#a8d3fa"/>
<rect x="386.77" y="879.93" width="4.53" height="20.37" fill="#ffa6c0"/>
<rect x="391.00" y="879.93" width="8.75" height="20.37" fill="#a8d3fa"/>
<rect x="399.45" y="879.93" width="4.52" height="20.37" fill="#ffa6c0"/>
<rect x="403.67" y="879.93" width="4.53" height="20.37" fill="#a8d3fa"/>
<rect x="407.90" y="879.93" width="4.53" height="20.37" fill="#ffa6c0"/>
<rect x="412.12" y="879.93" width="4.53" height="20.37" fill="#a8d3fa"/>
<rect x="416.35" y="879.93" width="17.20" height="20.37" fill="#ffa6c0"/>
<rect x="433.25" y="879.93" width="4.52" height="20.37" fill="#a8d3fa"/>
<rect x="437.47" y="879.93" width="4.53" height="20.37" fill="#ffa6c0"/>
<rect x="441.70" y="879.93" width="8.75" height="20.37" fill="#a8d3fa"/>
<rect x="450.15" y="879.93" width="12.98" height="20.37" fill="#ffa6c0"/>
<rect x="462.82" y="879.93" width="4.53" height="20.37" fill="#a8d3fa"/>
<rect x="467.05" y="879.93" width="4.52" height="20.37" fill="#ffa6c0"/>
<rect x="471.27" y="879.93" width="12.98" height="20.37" fill="#a8d3fa"/>
<rect x="483.95" y="879.93" width="12.98" height="20.37" fill="#ffa6c0"/>
<rect x="496.62" y="879.93" width="12.98" height="20.37" fill="#a8d3fa"/>
<rect x="509.30" y="879.93" width="4.52" height="20.37" fill="#ffa6c0"/>
<rect x="513.52" y="879.93" width="21.43" height="20.37" fill="#a8d3fa"/>
<rect x="534.65" y="879.93" width="8.75" height="20.37" fill="#ffa6c0"/>
<rect x="171.30" y="900.00" width="34.10" height="20.37" fill="#ffb3c8"/>
<rect x="205.10" y="900.00" width="4.52" height="20.37" fill="#a8d3fa"/>
<rect x="209.33" y="900.00" width="12.97" height="20.37" fill="#ffb3c8"/>
<rect x="222.00" y="900.00" width="4.53" height="20.37" fill="#a8d3fa"/>
<rect x="226.23" y="900.00" width="4.52" height="20.37" fill="#ffb3c8"/>
<rect x="230.45" y="900.00" width="4.53" height="20.37" fill="#a8d3fa"/>
<rect x="234.68" y="900.00" width="12.98" height="20.37" fill="#ffb3c8"/>
<rect x="247.35" y="900.00" width="4.52" height="20.37" fill="#a8d3fa"/>
<rect x="251.57" y="900.00" width="8.75" height="20.37" fill="#ffb3c8"/>
<rect x="260.02" y="900.00" width="4.53" height="20.37" fill="#a8d3fa"/>
<rect x="264.25" y="900.00" width="25.65" height="20.37" fill="#ffb3c8"/>
<rect x="289.60" y="900.00" width="4.52" height="20.37" fill="#a8d3fa"/>
<rect x="293.82" y="900.00" width="21.43" height="20.37" fill="#ffb3c8"/>
<rect x="314.95" y="900.00" width="4.53" height="20.37" fill="#a8d3fa"/>
<rect x="319.18" y="900.00" width="51.00" height="20.37" fill="#ffb3c8"/>
<rect x="369.88" y="900.00" width="29.87" height="20.37" fill="#a8d3fa"/>
<rect x="399.45" y="900.00" width="4.52" height="20.37" fill="#ffb3c8"/>
<rect x="403.67" y="900.00" width="4.53" height="20.37" fill="#a8d3fa"/>
<rect x="407.90" y="900.00" width="21.43" height="20.37" fill="#ffb3c8"/>
<rect x="429.02" y="900.00" width="4.53" height="20.37" fill="#a8d3fa"/>
<rect x="433.25" y="900.00" width="8.75" height="20.37" fill="#ffb3c8"/>
<rect x="441.70" y="900.00" width="8.75" height="20.37" fill="#a8d3fa"/>
<rect x="450.15" y="900.00" width="4.53" height="20.37" fill="#ffb3c8"/>
<rect x="454.38" y="900.00" width="25.65" height="20.37" fill="#a8d3fa"/>
<rect x="479.72" y="900.00" width="4.53" height="20.37" fill="#ffb3c8"/>
<rect x="483.95" y="900.00" width="4.53" height="20.37" fill="#a8d3fa"/>
<rect x="488.18" y="900.00" width="8.75" height="20.37" fill="#ffb3c8"/>
<rect x="496.62" y="900.00" width="12.98" height="20.37" fill="#a8d3fa"/>
<rect x="509.30" y="900.00" width="4.52" height="20.37" fill="#ffb3c8"/>
<rect x="513.52" y="900.00" width="4.53" height="20.37" fill="#a8d3fa"/>
<rect x="517.75" y="900.00" width="4.52" height="20.37" fill="#ffb3c8"/>
<rect x="521.97" y="900.00" width="4.53" height="20.37" fill="#a8d3fa"/>
<rect x="526.20" y="900.00" width="17.20" height="20.37" fill="#ffb3c8"/>
<rect x="171.30" y="920.07" width="4.52" height="20.37" fill="#ffabc3"/>
<rect x="175.53" y="920.07" width="4.52" height="20.37" fill="#a8d3fa"/>
<rect x="179.75" y="920.07" width="12.98" height="20.37" fill="#ffabc3"/>
<rect x="192.43" y="920.07" width="4.52" height="20.37" fill="#a8d3fa"/>
<rect x="196.65" y="920.07" width="51.00" height="20.37" fill="#ffabc3"/>
<rect x="247.35" y="920.07" width="8.75" height="20.37" fill="#a8d3fa"/>
<rect x="255.80" y="920.07" width="8.75" height="20.37" fill="#ffabc3"/>
<rect x="264.25" y="920.07" width="12.98" height="20.37" fill="#a8d3fa"/>
<rect x="276.93" y="920.07" width="12.98" height="20.37" fill="#ffabc3"/>
<rect x="289.60" y="920.07" width="4.52" height="20.37" fill="#a8d3fa"/>
<rect x="293.82" y="920.07" width="8.75" height="20.37" fill="#ffabc3"/>
<rect x="302.27" y="920.07" width="4.53" height="20.37" fill="#a8d3fa"/>
<rect x="306.50" y="920.07" width="8.75" height="20.37" fill="#ffabc3"/>
<rect x="314.95" y="920.07" width="12.98" height="20.37" fill="#a8d3fa"/>
<rect x="327.62" y="920.07" width="8.75" height="20.37" fill="#ffabc3"/>
<rect x="336.07" y="920.07" width="8.75" height="20.37" fill="#a8d3fa"/>
<rect x="344.52" y="920.07" width="38.32" height="20.37" fill="#ffabc3"/>
<rect x="382.55" y="920.07" width="4.53" height="20.37" fill="#a8d3fa"/>
<rect x="386.77" y="920.07" width="8.75" height="20.37" fill="#ffabc3"/>
<rect x="395.23" y="920.07" width="42.55" height="20.37" fill="#a8d3fa"/>
<rect x="437.47" y="920.07" width="4.53" height="20.37" fill="#ffabc3"/>
<rect x="441.70" y="920.07" width="4.53" height="20.37" fill="#a8d3fa"/>
<rect x="445.93" y="920.07" width="4.52" height="20.37" fill="#ffabc3"/>
<rect x="450.15" y="920.07" width="4.53" height="20.37" fill="#a8d3fa"/>
<rect x="454.38" y="920.07" width="12.98" height="20.37" fill="#ffabc3"/>
<rect x="467.05" y="920.07" width="4.52" height="20.37" fill="#a8d3fa"/>
<rect x="471.27" y="920.07" width="8.75" height="20.37" fill="#ffabc3"/>
<rect x="479.72" y="920.07" width="4.53" height="20.37" fill="#a8d3fa"/>
<rect x="483.95" y="920.07" width="4.53" height="20.37" fill="#ffabc3"/>
<rect x="488.18" y="920.07" width="4.52" height="20.37" fill="#a8d3fa"/>
<rect x="492.40" y="920.07" width="17.20" height="20.37" fill="#ffabc3"/>
<rect x="509.30" y="920.07" width="34.10" height="20.37" fill="#a8d3fa"/>
<rect x="171.30" y="940.14" width="371.80" height="20.07" fill="#fdfdfe"/>
<line x1="171.80" y1="699.30" x2="171.80" y2="960.0" stroke="#4a4a4a" stroke-width="1"/>
<line x1="543.40" y1="699.30" x2="543.40" y2="960.0" stroke="#555" stroke-width="0.9"/>
<line x1="168.10" y1="709.33" x2="171.30" y2="709.33" stroke="#333" stroke-width="1"/>
<text x="164.50" y="714.63" font-size="12.8" text-anchor="end" fill="#222" stroke="#222" stroke-width="0.2" textLength="18.84" lengthAdjust="spacingAndGlyphs">f12</text>
<rect x="543.10" y="702.33" width="19.00" height="14" fill="#000"/>
<line x1="168.10" y1="729.40" x2="171.30" y2="729.40" stroke="#333" stroke-width="1"/>
<text x="164.50" y="734.70" font-size="12.8" text-anchor="end" fill="#222" stroke="#222" stroke-width="0.2" textLength="11.46" lengthAdjust="spacingAndGlyphs">f4</text>
<rect x="543.10" y="722.40" width="19.00" height="14" fill="#000"/>
<line x1="168.10" y1="749.47" x2="171.30" y2="749.47" stroke="#333" stroke-width="1"/>
<text x="164.50" y="754.77" font-size="12.8" text-anchor="end" fill="#222" stroke="#222" stroke-width="0.2" textLength="18.84" lengthAdjust="spacingAndGlyphs">f20</text>
<rect x="543.10" y="742.47" width="17.50" height="14" fill="#000"/>
<line x1="168.10" y1="769.54" x2="171.30" y2="769.54" stroke="#333" stroke-width="1"/>
<text x="164.50" y="774.84" font-size="12.8" text-anchor="end" fill="#222" stroke="#222" stroke-width="0.2" textLength="11.46" lengthAdjust="spacingAndGlyphs">f7</text>
<rect x="543.10" y="762.54" width="8.00" height="14" fill="#000"/>
<line x1="168.10" y1="789.62" x2="171.30" y2="789.62" stroke="#333" stroke-width="1"/>
<text x="164.50" y="794.91" font-size="12.8" text-anchor="end" fill="#222" stroke="#222" stroke-width="0.2" textLength="11.46" lengthAdjust="spacingAndGlyphs">f9</text>
<rect x="543.10" y="782.62" width="8.00" height="14" fill="#000"/>
<line x1="168.10" y1="809.68" x2="171.30" y2="809.68" stroke="#333" stroke-width="1"/>
<text x="164.50" y="814.98" font-size="12.8" text-anchor="end" fill="#222" stroke="#222" stroke-width="0.2" textLength="11.46" lengthAdjust="spacingAndGlyphs">f5</text>
<rect x="543.10" y="802.68" width="8.00" height="14" fill="#000"/>
<line x1="168.10" y1="829.75" x2="171.30" y2="829.75" stroke="#333" stroke-width="1"/>
<text x="164.50" y="835.05" font-size="12.8" text-anchor="end" fill="#222" stroke="#222" stroke-width="0.2" textLength="18.84" lengthAdjust="spacingAndGlyphs">f21</text>
<rect x="543.10" y="822.75" width="7.30" height="14" fill="#000"/>
<line x1="168.10" y1="849.82" x2="171.30" y2="849.82" stroke="#333" stroke-width="1"/>
<text x="164.50" y="855.12" font-size="12.8" text-anchor="end" fill="#222" stroke="#222" stroke-width="0.2" textLength="18.84" lengthAdjust="spacingAndGlyphs">f19</text>
<rect x="543.10" y="842.82" width="7.30" height="14" fill="#000"/>
<line x1="168.10" y1="869.89" x2="171.30" y2="869.89" stroke="#333" stroke-width="1"/>
<text x="164.50" y="875.19" font-size="12.8" text-anchor="end" fill="#222" stroke="#222" stroke-width="0.2" textLength="18.84" lengthAdjust="spacingAndGlyphs">f16</text>
<rect x="543.10" y="862.89" width="7.30" height="14" fill="#000"/>
<line x1="168.10" y1="889.96" x2="171.30" y2="889.96" stroke="#333" stroke-width="1"/>
<text x="164.50" y="895.26" font-size="12.8" text-anchor="end" fill="#222" stroke="#222" stroke-width="0.2" textLength="18.84" lengthAdjust="spacingAndGlyphs">f22</text>
<rect x="543.10" y="882.96" width="6.60" height="14" fill="#000"/>
<line x1="168.10" y1="910.03" x2="171.30" y2="910.03" stroke="#333" stroke-width="1"/>
<text x="164.50" y="915.33" font-size="12.8" text-anchor="end" fill="#222" stroke="#222" stroke-width="0.2" textLength="18.84" lengthAdjust="spacingAndGlyphs">f10</text>
<rect x="543.10" y="903.03" width="6.60" height="14" fill="#000"/>
<line x1="168.10" y1="930.11" x2="171.30" y2="930.11" stroke="#333" stroke-width="1"/>
<text x="164.50" y="935.40" font-size="12.8" text-anchor="end" fill="#222" stroke="#222" stroke-width="0.2" textLength="18.84" lengthAdjust="spacingAndGlyphs">f17</text>
<rect x="543.10" y="923.11" width="6.60" height="14" fill="#000"/>
<line x1="168.10" y1="950.17" x2="171.30" y2="950.17" stroke="#333" stroke-width="1"/>
<text x="164.50" y="955.47" font-size="12.8" text-anchor="end" fill="#222" stroke="#222" stroke-width="0.2" textLength="150.70" lengthAdjust="spacingAndGlyphs">Sum of 11 other features</text>
<line x1="173.41" y1="960.0" x2="173.41" y2="963.0" stroke="#333" stroke-width="1"/>
<text x="173.41" y="973.80" font-size="10.4" text-anchor="middle" fill="#222" stroke="#222" stroke-width="0.2" textLength="5.47" lengthAdjust="spacingAndGlyphs">0</text>
<line x1="215.66" y1="960.0" x2="215.66" y2="963.0" stroke="#333" stroke-width="1"/>
<text x="215.66" y="973.80" font-size="10.4" text-anchor="middle" fill="#222" stroke="#222" stroke-width="0.2" textLength="10.94" lengthAdjust="spacingAndGlyphs">10</text>
<line x1="257.91" y1="960.0" x2="257.91" y2="963.0" stroke="#333" stroke-width="1"/>
<text x="257.91" y="973.80" font-size="10.4" text-anchor="middle" fill="#222" stroke="#222" stroke-width="0.2" textLength="10.94" lengthAdjust="spacingAndGlyphs">20</text>
<line x1="300.16" y1="960.0" x2="300.16" y2="963.0" stroke="#333" stroke-width="1"/>
<text x="300.16" y="973.80" font-size="10.4" text-anchor="middle" fill="#222" stroke="#222" stroke-width="0.2" textLength="10.94" lengthAdjust="spacingAndGlyphs">30</text>
<line x1="342.41" y1="960.0" x2="342.41" y2="963.0" stroke="#333" stroke-width="1"/>
<text x="342.41" y="973.80" font-size="10.4" text-anchor="middle" fill="#222" stroke="#222" stroke-width="0.2" textLength="10.94" lengthAdjust="spacingAndGlyphs">40</text>
<line x1="384.66" y1="960.0" x2="384.66" y2="963.0" stroke="#333" stroke-width="1"/>
<text x="384.66" y="973.80" font-size="10.4" text-anchor="middle" fill="#222" stroke="#222" stroke-width="0.2" textLength="10.94" lengthAdjust="spacingAndGlyphs">50</text>
<line x1="426.91" y1="960.0" x2="426.91" y2="963.0" stroke="#333" stroke-width="1"/>
<text x="426.91" y="973.80" font-size="10.4" text-anchor="middle" fill="#222" stroke="#222" stroke-width="0.2" textLength="10.94" lengthAdjust="spacingAndGlyphs">60</text>
<line x1="469.16" y1="960.0" x2="469.16" y2="963.0" stroke="#333" stroke-width="1"/>
<text x="469.16" y="973.80" font-size="10.4" text-anchor="middle" fill="#222" stroke="#222" stroke-width="0.2" textLength="10.94" lengthAdjust="spacingAndGlyphs">70</text>
<line x1="511.41" y1="960.0" x2="511.41" y2="963.0" stroke="#333" stroke-width="1"/>
<text x="511.41" y="973.80" font-size="10.4" text-anchor="middle" fill="#222" stroke="#222" stroke-width="0.2" textLength="10.94" lengthAdjust="spacingAndGlyphs">80</text>
<text x="357.10" y="986.30" font-size="9.4" text-anchor="middle" fill="#222" stroke="#222" stroke-width="0.2" textLength="43.60" lengthAdjust="spacingAndGlyphs">Instances</text>
<linearGradient id="cbc" x1="0" y1="0" x2="0" y2="1"><stop offset="0" stop-color="#ff0052"/><stop offset="0.5" stop-color="#ffffff"/><stop offset="1" stop-color="#008bfb"/></linearGradient>
<rect x="584.7" y="676.1" width="4.3" height="332.6" fill="url(#cbc)"/>
<text x="592.10" y="681.00" font-size="10.2" text-anchor="start" fill="#222" stroke="#222" stroke-width="0.2" textLength="35.20" lengthAdjust="spacingAndGlyphs">0.4298</text>
<text x="593.00" y="1012.60" font-size="10.2" text-anchor="start" fill="#222" stroke="#222" stroke-width="0.2" textLength="43.00" lengthAdjust="spacingAndGlyphs">−0.4298</text>
<text x="634.60" y="842.30" font-size="11.3" text-anchor="middle" fill="#222" stroke="#222" stroke-width="0.2" textLength="63.80" lengthAdjust="spacingAndGlyphs" transform="rotate(-90 634.60 842.30)">SHAP value</text>
</svg>
</body></html>
